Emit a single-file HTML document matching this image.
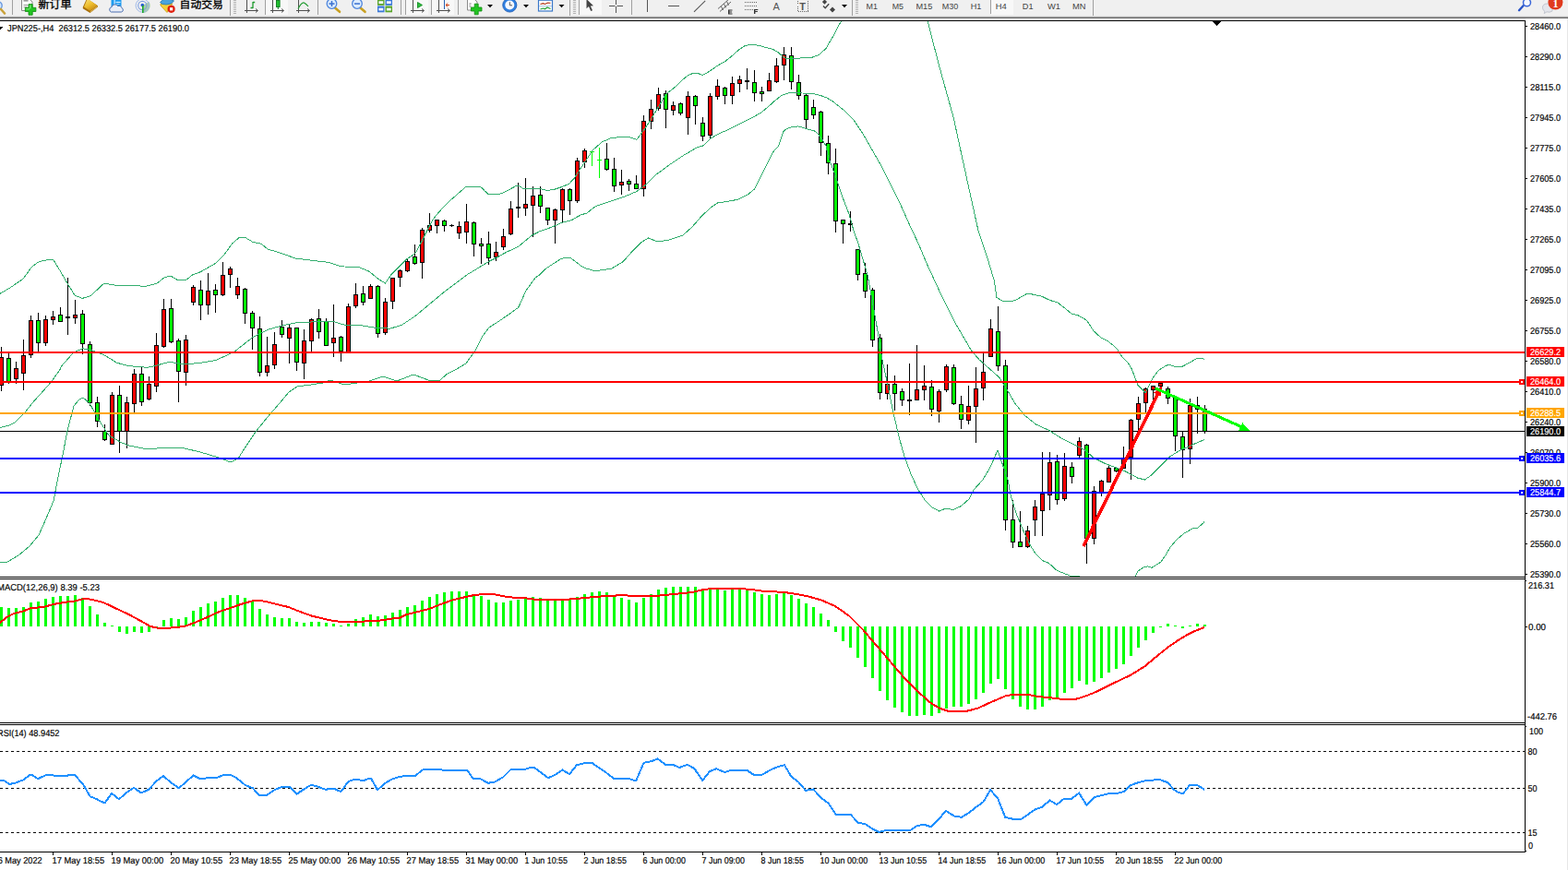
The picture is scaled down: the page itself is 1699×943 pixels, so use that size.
<!DOCTYPE html>
<html><head><meta charset="utf-8"><title>JPN225-,H4</title>
<style>html,body{margin:0;padding:0;background:#fff;overflow:hidden}body{width:1699px;height:943px;font-family:"Liberation Sans", sans-serif}</style>
</head><body><svg width="1699" height="943" viewBox="0 0 1699 943" font-family='"Liberation Sans", sans-serif' style="display:block"><rect x="0" y="0" width="1699" height="943" fill="#fff"/>
<rect x="0" y="0" width="1699" height="17" fill="#f0f0f0"/>
<rect x="0" y="17" width="1699" height="1" fill="#e2e2e2"/>
<rect x="0" y="18" width="1699" height="1" fill="#a3a3a3"/>
<rect x="0" y="19" width="1699" height="1" fill="#696969"/>
<rect x="1698" y="20" width="1" height="923" fill="#e6e6e6"/>
<g shape-rendering="crispEdges">
<rect x="0" y="22" width="1653" height="1" fill="#000"/>
<rect x="1652" y="22" width="1" height="902" fill="#000"/>
<rect x="0" y="625" width="1653" height="1" fill="#000"/>
<rect x="0" y="627" width="1653" height="1" fill="#000"/>
<rect x="0" y="783" width="1653" height="1" fill="#000"/>
<rect x="0" y="785" width="1653" height="1" fill="#000"/>
<rect x="0" y="923" width="1653" height="1" fill="#000"/>
<rect x="1653" y="922" width="1" height="1" fill="#000"/>
<rect x="1653" y="629" width="1" height="1" fill="#000"/>
<rect x="1653" y="787" width="1" height="1" fill="#000"/>
<polygon points="1313.5,23 1323.5,23 1318.5,28" fill="#000"/>
<polygon points="-3,29 3.4,29 0.2,32.4" fill="#000"/>
<clipPath id="cm"><rect x="0" y="23" width="1652" height="602"/></clipPath>
<g clip-path="url(#cm)">
<rect x="0" y="467" width="1652" height="1" fill="#000"/>
<rect x="1" y="376" width="1" height="48" fill="#000"/>
<rect x="-1" y="387" width="5" height="31" fill="#000"/>
<rect x="0" y="388" width="3" height="29" fill="#ff0000"/>
<rect x="9" y="383" width="1" height="33" fill="#000"/>
<rect x="7" y="388" width="5" height="26" fill="#000"/>
<rect x="8" y="389" width="3" height="24" fill="#00ff00"/>
<rect x="17" y="392" width="1" height="24" fill="#000"/>
<rect x="15" y="399" width="5" height="12" fill="#000"/>
<rect x="16" y="400" width="3" height="10" fill="#ff0000"/>
<rect x="25" y="368" width="1" height="55" fill="#000"/>
<rect x="23" y="385" width="5" height="20" fill="#000"/>
<rect x="24" y="386" width="3" height="18" fill="#ff0000"/>
<rect x="33" y="342" width="1" height="46" fill="#000"/>
<rect x="31" y="347" width="5" height="38" fill="#000"/>
<rect x="32" y="348" width="3" height="36" fill="#ff0000"/>
<rect x="41" y="339" width="1" height="42" fill="#000"/>
<rect x="39" y="347" width="5" height="25" fill="#000"/>
<rect x="40" y="348" width="3" height="23" fill="#00ff00"/>
<rect x="49" y="342" width="1" height="33" fill="#000"/>
<rect x="47" y="346" width="5" height="26" fill="#000"/>
<rect x="48" y="347" width="3" height="24" fill="#ff0000"/>
<rect x="57" y="337" width="1" height="15" fill="#000"/>
<rect x="55" y="343" width="5" height="4" fill="#000"/>
<rect x="56" y="344" width="3" height="2" fill="#ff0000"/>
<rect x="65" y="333" width="1" height="16" fill="#000"/>
<rect x="63" y="341" width="5" height="8" fill="#000"/>
<rect x="64" y="342" width="3" height="6" fill="#00ff00"/>
<rect x="73" y="301" width="1" height="62" fill="#000"/>
<rect x="71" y="343" width="5" height="2" fill="#000"/>
<rect x="81" y="325" width="1" height="26" fill="#000"/>
<rect x="79" y="341" width="5" height="4" fill="#000"/>
<rect x="80" y="342" width="3" height="2" fill="#ff0000"/>
<rect x="89" y="336" width="1" height="48" fill="#000"/>
<rect x="87" y="340" width="5" height="33" fill="#000"/>
<rect x="88" y="341" width="3" height="31" fill="#00ff00"/>
<rect x="97" y="370" width="1" height="70" fill="#000"/>
<rect x="95" y="373" width="5" height="64" fill="#000"/>
<rect x="96" y="374" width="3" height="62" fill="#00ff00"/>
<rect x="105" y="430" width="1" height="33" fill="#000"/>
<rect x="103" y="436" width="5" height="21" fill="#000"/>
<rect x="104" y="437" width="3" height="19" fill="#00ff00"/>
<rect x="113" y="460" width="1" height="18" fill="#000"/>
<rect x="111" y="467" width="5" height="10" fill="#000"/>
<rect x="112" y="468" width="3" height="8" fill="#00ff00"/>
<rect x="121" y="425" width="1" height="57" fill="#000"/>
<rect x="119" y="428" width="5" height="54" fill="#000"/>
<rect x="120" y="429" width="3" height="52" fill="#ff0000"/>
<rect x="129" y="418" width="1" height="73" fill="#000"/>
<rect x="127" y="428" width="5" height="40" fill="#000"/>
<rect x="128" y="429" width="3" height="38" fill="#00ff00"/>
<rect x="137" y="430" width="1" height="56" fill="#000"/>
<rect x="135" y="436" width="5" height="32" fill="#000"/>
<rect x="136" y="437" width="3" height="30" fill="#ff0000"/>
<rect x="145" y="400" width="1" height="47" fill="#000"/>
<rect x="143" y="405" width="5" height="33" fill="#000"/>
<rect x="144" y="406" width="3" height="31" fill="#ff0000"/>
<rect x="153" y="397" width="1" height="43" fill="#000"/>
<rect x="151" y="405" width="5" height="31" fill="#000"/>
<rect x="152" y="406" width="3" height="29" fill="#00ff00"/>
<rect x="161" y="408" width="1" height="26" fill="#000"/>
<rect x="159" y="416" width="5" height="17" fill="#000"/>
<rect x="160" y="417" width="3" height="15" fill="#ff0000"/>
<rect x="169" y="361" width="1" height="64" fill="#000"/>
<rect x="167" y="374" width="5" height="45" fill="#000"/>
<rect x="168" y="375" width="3" height="43" fill="#ff0000"/>
<rect x="177" y="324" width="1" height="53" fill="#000"/>
<rect x="175" y="335" width="5" height="41" fill="#000"/>
<rect x="176" y="336" width="3" height="39" fill="#ff0000"/>
<rect x="185" y="324" width="1" height="48" fill="#000"/>
<rect x="183" y="334" width="5" height="37" fill="#000"/>
<rect x="184" y="335" width="3" height="35" fill="#00ff00"/>
<rect x="193" y="367" width="1" height="69" fill="#000"/>
<rect x="191" y="369" width="5" height="34" fill="#000"/>
<rect x="192" y="370" width="3" height="32" fill="#00ff00"/>
<rect x="201" y="363" width="1" height="55" fill="#000"/>
<rect x="199" y="368" width="5" height="36" fill="#000"/>
<rect x="200" y="369" width="3" height="34" fill="#ff0000"/>
<rect x="209" y="309" width="1" height="22" fill="#000"/>
<rect x="207" y="311" width="5" height="17" fill="#000"/>
<rect x="208" y="312" width="3" height="15" fill="#ff0000"/>
<rect x="217" y="304" width="1" height="43" fill="#000"/>
<rect x="215" y="314" width="5" height="17" fill="#000"/>
<rect x="216" y="315" width="3" height="15" fill="#00ff00"/>
<rect x="225" y="296" width="1" height="45" fill="#000"/>
<rect x="223" y="315" width="5" height="16" fill="#000"/>
<rect x="224" y="316" width="3" height="14" fill="#ff0000"/>
<rect x="233" y="308" width="1" height="31" fill="#000"/>
<rect x="231" y="314" width="5" height="6" fill="#000"/>
<rect x="232" y="315" width="3" height="4" fill="#00ff00"/>
<rect x="241" y="284" width="1" height="37" fill="#000"/>
<rect x="239" y="298" width="5" height="22" fill="#000"/>
<rect x="240" y="299" width="3" height="20" fill="#ff0000"/>
<rect x="249" y="289" width="1" height="23" fill="#000"/>
<rect x="247" y="291" width="5" height="7" fill="#000"/>
<rect x="248" y="292" width="3" height="5" fill="#ff0000"/>
<rect x="257" y="301" width="1" height="23" fill="#000"/>
<rect x="255" y="310" width="5" height="10" fill="#000"/>
<rect x="256" y="311" width="3" height="8" fill="#ff0000"/>
<rect x="265" y="312" width="1" height="39" fill="#000"/>
<rect x="263" y="313" width="5" height="27" fill="#000"/>
<rect x="264" y="314" width="3" height="25" fill="#00ff00"/>
<rect x="273" y="337" width="1" height="42" fill="#000"/>
<rect x="271" y="339" width="5" height="17" fill="#000"/>
<rect x="272" y="340" width="3" height="15" fill="#00ff00"/>
<rect x="281" y="343" width="1" height="65" fill="#000"/>
<rect x="279" y="356" width="5" height="48" fill="#000"/>
<rect x="280" y="357" width="3" height="46" fill="#00ff00"/>
<rect x="289" y="365" width="1" height="43" fill="#000"/>
<rect x="287" y="396" width="5" height="8" fill="#000"/>
<rect x="288" y="397" width="3" height="6" fill="#ff0000"/>
<rect x="297" y="360" width="1" height="40" fill="#000"/>
<rect x="295" y="373" width="5" height="23" fill="#000"/>
<rect x="296" y="374" width="3" height="21" fill="#ff0000"/>
<rect x="305" y="347" width="1" height="19" fill="#000"/>
<rect x="303" y="354" width="5" height="9" fill="#000"/>
<rect x="304" y="355" width="3" height="7" fill="#00ff00"/>
<rect x="313" y="352" width="1" height="42" fill="#000"/>
<rect x="311" y="355" width="5" height="12" fill="#000"/>
<rect x="312" y="356" width="3" height="10" fill="#ff0000"/>
<rect x="321" y="355" width="1" height="47" fill="#000"/>
<rect x="319" y="355" width="5" height="38" fill="#000"/>
<rect x="320" y="356" width="3" height="36" fill="#00ff00"/>
<rect x="329" y="357" width="1" height="54" fill="#000"/>
<rect x="327" y="369" width="5" height="25" fill="#000"/>
<rect x="328" y="370" width="3" height="23" fill="#ff0000"/>
<rect x="337" y="345" width="1" height="36" fill="#000"/>
<rect x="335" y="346" width="5" height="24" fill="#000"/>
<rect x="336" y="347" width="3" height="22" fill="#ff0000"/>
<rect x="345" y="335" width="1" height="32" fill="#000"/>
<rect x="343" y="345" width="5" height="15" fill="#000"/>
<rect x="344" y="346" width="3" height="13" fill="#00ff00"/>
<rect x="353" y="345" width="1" height="30" fill="#000"/>
<rect x="351" y="348" width="5" height="27" fill="#000"/>
<rect x="352" y="349" width="3" height="25" fill="#00ff00"/>
<rect x="361" y="330" width="1" height="57" fill="#000"/>
<rect x="359" y="366" width="5" height="6" fill="#000"/>
<rect x="360" y="367" width="3" height="4" fill="#ff0000"/>
<rect x="369" y="364" width="1" height="28" fill="#000"/>
<rect x="367" y="365" width="5" height="16" fill="#000"/>
<rect x="368" y="366" width="3" height="14" fill="#00ff00"/>
<rect x="377" y="329" width="1" height="53" fill="#000"/>
<rect x="375" y="332" width="5" height="50" fill="#000"/>
<rect x="376" y="333" width="3" height="48" fill="#ff0000"/>
<rect x="385" y="307" width="1" height="27" fill="#000"/>
<rect x="383" y="319" width="5" height="13" fill="#000"/>
<rect x="384" y="320" width="3" height="11" fill="#ff0000"/>
<rect x="393" y="310" width="1" height="21" fill="#000"/>
<rect x="391" y="318" width="5" height="10" fill="#000"/>
<rect x="392" y="319" width="3" height="8" fill="#00ff00"/>
<rect x="401" y="308" width="1" height="16" fill="#000"/>
<rect x="399" y="310" width="5" height="14" fill="#000"/>
<rect x="400" y="311" width="3" height="12" fill="#ff0000"/>
<rect x="409" y="309" width="1" height="57" fill="#000"/>
<rect x="407" y="310" width="5" height="52" fill="#000"/>
<rect x="408" y="311" width="3" height="50" fill="#00ff00"/>
<rect x="417" y="323" width="1" height="40" fill="#000"/>
<rect x="415" y="327" width="5" height="34" fill="#000"/>
<rect x="416" y="328" width="3" height="32" fill="#ff0000"/>
<rect x="425" y="301" width="1" height="34" fill="#000"/>
<rect x="423" y="301" width="5" height="26" fill="#000"/>
<rect x="424" y="302" width="3" height="24" fill="#ff0000"/>
<rect x="433" y="292" width="1" height="19" fill="#000"/>
<rect x="431" y="293" width="5" height="8" fill="#000"/>
<rect x="432" y="294" width="3" height="6" fill="#ff0000"/>
<rect x="441" y="281" width="1" height="14" fill="#000"/>
<rect x="439" y="283" width="5" height="11" fill="#000"/>
<rect x="440" y="284" width="3" height="9" fill="#ff0000"/>
<rect x="449" y="265" width="1" height="22" fill="#000"/>
<rect x="447" y="278" width="5" height="8" fill="#000"/>
<rect x="448" y="279" width="3" height="6" fill="#00ff00"/>
<rect x="457" y="247" width="1" height="55" fill="#000"/>
<rect x="455" y="249" width="5" height="36" fill="#000"/>
<rect x="456" y="250" width="3" height="34" fill="#ff0000"/>
<rect x="465" y="231" width="1" height="21" fill="#000"/>
<rect x="463" y="244" width="5" height="6" fill="#000"/>
<rect x="464" y="245" width="3" height="4" fill="#ff0000"/>
<rect x="473" y="238" width="1" height="15" fill="#000"/>
<rect x="471" y="238" width="5" height="7" fill="#000"/>
<rect x="472" y="239" width="3" height="5" fill="#ff0000"/>
<rect x="481" y="238" width="1" height="13" fill="#000"/>
<rect x="479" y="239" width="5" height="6" fill="#000"/>
<rect x="480" y="240" width="3" height="4" fill="#00ff00"/>
<rect x="489" y="243" width="1" height="3" fill="#000"/>
<rect x="487" y="244" width="5" height="1" fill="#000"/>
<rect x="497" y="240" width="1" height="19" fill="#000"/>
<rect x="495" y="245" width="5" height="8" fill="#000"/>
<rect x="496" y="246" width="3" height="6" fill="#ff0000"/>
<rect x="505" y="221" width="1" height="43" fill="#000"/>
<rect x="503" y="240" width="5" height="12" fill="#000"/>
<rect x="504" y="241" width="3" height="10" fill="#ff0000"/>
<rect x="513" y="240" width="1" height="38" fill="#000"/>
<rect x="511" y="241" width="5" height="24" fill="#000"/>
<rect x="512" y="242" width="3" height="22" fill="#00ff00"/>
<rect x="521" y="258" width="1" height="28" fill="#000"/>
<rect x="519" y="264" width="5" height="3" fill="#000"/>
<rect x="520" y="265" width="3" height="1" fill="#00ff00"/>
<rect x="529" y="251" width="1" height="36" fill="#000"/>
<rect x="527" y="264" width="5" height="16" fill="#000"/>
<rect x="528" y="265" width="3" height="14" fill="#00ff00"/>
<rect x="537" y="262" width="1" height="21" fill="#000"/>
<rect x="535" y="273" width="5" height="6" fill="#000"/>
<rect x="536" y="274" width="3" height="4" fill="#ff0000"/>
<rect x="545" y="248" width="1" height="23" fill="#000"/>
<rect x="543" y="256" width="5" height="12" fill="#000"/>
<rect x="544" y="257" width="3" height="10" fill="#ff0000"/>
<rect x="553" y="218" width="1" height="37" fill="#000"/>
<rect x="551" y="226" width="5" height="28" fill="#000"/>
<rect x="552" y="227" width="3" height="26" fill="#ff0000"/>
<rect x="561" y="198" width="1" height="38" fill="#000"/>
<rect x="559" y="224" width="5" height="2" fill="#000"/>
<rect x="569" y="193" width="1" height="41" fill="#000"/>
<rect x="567" y="221" width="5" height="5" fill="#000"/>
<rect x="568" y="222" width="3" height="3" fill="#ff0000"/>
<rect x="577" y="202" width="1" height="55" fill="#000"/>
<rect x="575" y="212" width="5" height="11" fill="#000"/>
<rect x="576" y="213" width="3" height="9" fill="#ff0000"/>
<rect x="585" y="202" width="1" height="29" fill="#000"/>
<rect x="583" y="211" width="5" height="13" fill="#000"/>
<rect x="584" y="212" width="3" height="11" fill="#00ff00"/>
<rect x="593" y="225" width="1" height="19" fill="#000"/>
<rect x="591" y="225" width="5" height="14" fill="#000"/>
<rect x="592" y="226" width="3" height="12" fill="#00ff00"/>
<rect x="601" y="226" width="1" height="38" fill="#000"/>
<rect x="599" y="227" width="5" height="12" fill="#000"/>
<rect x="600" y="228" width="3" height="10" fill="#ff0000"/>
<rect x="609" y="204" width="1" height="37" fill="#000"/>
<rect x="607" y="205" width="5" height="23" fill="#000"/>
<rect x="608" y="206" width="3" height="21" fill="#ff0000"/>
<rect x="617" y="204" width="1" height="29" fill="#000"/>
<rect x="615" y="205" width="5" height="13" fill="#000"/>
<rect x="616" y="206" width="3" height="11" fill="#00ff00"/>
<rect x="625" y="171" width="1" height="49" fill="#000"/>
<rect x="623" y="174" width="5" height="44" fill="#000"/>
<rect x="624" y="175" width="3" height="42" fill="#ff0000"/>
<rect x="633" y="161" width="1" height="21" fill="#000"/>
<rect x="631" y="163" width="5" height="13" fill="#000"/>
<rect x="632" y="164" width="3" height="11" fill="#ff0000"/>
<rect x="641" y="164" width="1" height="16" fill="#00ff00"/>
<rect x="639" y="164" width="5" height="1" fill="#00ff00"/>
<rect x="649" y="160" width="1" height="33" fill="#00ff00"/>
<rect x="647" y="173" width="5" height="1" fill="#00ff00"/>
<rect x="657" y="155" width="1" height="30" fill="#000"/>
<rect x="655" y="172" width="5" height="12" fill="#000"/>
<rect x="656" y="173" width="3" height="10" fill="#00ff00"/>
<rect x="665" y="171" width="1" height="37" fill="#000"/>
<rect x="663" y="183" width="5" height="19" fill="#000"/>
<rect x="664" y="184" width="3" height="17" fill="#00ff00"/>
<rect x="673" y="184" width="1" height="27" fill="#000"/>
<rect x="671" y="197" width="5" height="4" fill="#000"/>
<rect x="672" y="198" width="3" height="2" fill="#ff0000"/>
<rect x="681" y="194" width="1" height="13" fill="#000"/>
<rect x="679" y="196" width="5" height="4" fill="#000"/>
<rect x="680" y="197" width="3" height="2" fill="#00ff00"/>
<rect x="689" y="190" width="1" height="15" fill="#000"/>
<rect x="687" y="199" width="5" height="6" fill="#000"/>
<rect x="688" y="200" width="3" height="4" fill="#00ff00"/>
<rect x="697" y="125" width="1" height="88" fill="#000"/>
<rect x="695" y="131" width="5" height="74" fill="#000"/>
<rect x="696" y="132" width="3" height="72" fill="#ff0000"/>
<rect x="705" y="108" width="1" height="32" fill="#000"/>
<rect x="703" y="118" width="5" height="14" fill="#000"/>
<rect x="704" y="119" width="3" height="12" fill="#ff0000"/>
<rect x="713" y="95" width="1" height="25" fill="#000"/>
<rect x="711" y="102" width="5" height="16" fill="#000"/>
<rect x="712" y="103" width="3" height="14" fill="#ff0000"/>
<rect x="721" y="98" width="1" height="41" fill="#000"/>
<rect x="719" y="101" width="5" height="18" fill="#000"/>
<rect x="720" y="102" width="3" height="16" fill="#00ff00"/>
<rect x="729" y="110" width="1" height="15" fill="#000"/>
<rect x="727" y="114" width="5" height="6" fill="#000"/>
<rect x="728" y="115" width="3" height="4" fill="#ff0000"/>
<rect x="737" y="111" width="1" height="14" fill="#000"/>
<rect x="735" y="112" width="5" height="11" fill="#000"/>
<rect x="736" y="113" width="3" height="9" fill="#00ff00"/>
<rect x="745" y="99" width="1" height="47" fill="#000"/>
<rect x="743" y="104" width="5" height="24" fill="#000"/>
<rect x="744" y="105" width="3" height="22" fill="#ff0000"/>
<rect x="753" y="103" width="1" height="32" fill="#000"/>
<rect x="751" y="104" width="5" height="11" fill="#000"/>
<rect x="752" y="105" width="3" height="9" fill="#00ff00"/>
<rect x="761" y="127" width="1" height="26" fill="#000"/>
<rect x="759" y="133" width="5" height="15" fill="#000"/>
<rect x="760" y="134" width="3" height="13" fill="#00ff00"/>
<rect x="769" y="101" width="1" height="50" fill="#000"/>
<rect x="767" y="104" width="5" height="43" fill="#000"/>
<rect x="768" y="105" width="3" height="41" fill="#ff0000"/>
<rect x="777" y="86" width="1" height="22" fill="#000"/>
<rect x="775" y="93" width="5" height="12" fill="#000"/>
<rect x="776" y="94" width="3" height="10" fill="#ff0000"/>
<rect x="785" y="94" width="1" height="19" fill="#000"/>
<rect x="783" y="95" width="5" height="9" fill="#000"/>
<rect x="784" y="96" width="3" height="7" fill="#00ff00"/>
<rect x="793" y="83" width="1" height="30" fill="#000"/>
<rect x="791" y="90" width="5" height="14" fill="#000"/>
<rect x="792" y="91" width="3" height="12" fill="#ff0000"/>
<rect x="801" y="82" width="1" height="18" fill="#000"/>
<rect x="799" y="86" width="5" height="5" fill="#000"/>
<rect x="800" y="87" width="3" height="3" fill="#ff0000"/>
<rect x="809" y="74" width="1" height="23" fill="#000"/>
<rect x="807" y="87" width="5" height="2" fill="#000"/>
<rect x="817" y="76" width="1" height="34" fill="#000"/>
<rect x="815" y="89" width="5" height="12" fill="#000"/>
<rect x="816" y="90" width="3" height="10" fill="#00ff00"/>
<rect x="825" y="94" width="1" height="16" fill="#000"/>
<rect x="823" y="99" width="5" height="3" fill="#000"/>
<rect x="824" y="100" width="3" height="1" fill="#00ff00"/>
<rect x="833" y="79" width="1" height="20" fill="#000"/>
<rect x="831" y="87" width="5" height="12" fill="#000"/>
<rect x="832" y="88" width="3" height="10" fill="#ff0000"/>
<rect x="841" y="63" width="1" height="27" fill="#000"/>
<rect x="839" y="71" width="5" height="18" fill="#000"/>
<rect x="840" y="72" width="3" height="16" fill="#ff0000"/>
<rect x="849" y="51" width="1" height="36" fill="#000"/>
<rect x="847" y="59" width="5" height="12" fill="#000"/>
<rect x="848" y="60" width="3" height="10" fill="#ff0000"/>
<rect x="857" y="51" width="1" height="46" fill="#000"/>
<rect x="855" y="60" width="5" height="29" fill="#000"/>
<rect x="856" y="61" width="3" height="27" fill="#00ff00"/>
<rect x="865" y="81" width="1" height="27" fill="#000"/>
<rect x="863" y="89" width="5" height="15" fill="#000"/>
<rect x="864" y="90" width="3" height="13" fill="#00ff00"/>
<rect x="873" y="102" width="1" height="37" fill="#000"/>
<rect x="871" y="103" width="5" height="27" fill="#000"/>
<rect x="872" y="104" width="3" height="25" fill="#00ff00"/>
<rect x="881" y="108" width="1" height="21" fill="#000"/>
<rect x="879" y="116" width="5" height="9" fill="#000"/>
<rect x="880" y="117" width="3" height="7" fill="#00ff00"/>
<rect x="889" y="120" width="1" height="49" fill="#000"/>
<rect x="887" y="121" width="5" height="34" fill="#000"/>
<rect x="888" y="122" width="3" height="32" fill="#00ff00"/>
<rect x="897" y="147" width="1" height="42" fill="#000"/>
<rect x="895" y="155" width="5" height="22" fill="#000"/>
<rect x="896" y="156" width="3" height="20" fill="#00ff00"/>
<rect x="905" y="161" width="1" height="91" fill="#000"/>
<rect x="903" y="177" width="5" height="63" fill="#000"/>
<rect x="904" y="178" width="3" height="61" fill="#00ff00"/>
<rect x="913" y="238" width="1" height="26" fill="#000"/>
<rect x="911" y="238" width="5" height="5" fill="#000"/>
<rect x="912" y="239" width="3" height="3" fill="#00ff00"/>
<rect x="921" y="229" width="1" height="22" fill="#000"/>
<rect x="919" y="242" width="5" height="2" fill="#000"/>
<rect x="929" y="270" width="1" height="34" fill="#000"/>
<rect x="927" y="270" width="5" height="28" fill="#000"/>
<rect x="928" y="271" width="3" height="26" fill="#00ff00"/>
<rect x="937" y="285" width="1" height="38" fill="#000"/>
<rect x="935" y="296" width="5" height="20" fill="#000"/>
<rect x="936" y="297" width="3" height="18" fill="#00ff00"/>
<rect x="945" y="312" width="1" height="64" fill="#000"/>
<rect x="943" y="314" width="5" height="55" fill="#000"/>
<rect x="944" y="315" width="3" height="53" fill="#00ff00"/>
<rect x="953" y="362" width="1" height="71" fill="#000"/>
<rect x="951" y="366" width="5" height="60" fill="#000"/>
<rect x="952" y="367" width="3" height="58" fill="#00ff00"/>
<rect x="961" y="395" width="1" height="38" fill="#000"/>
<rect x="959" y="416" width="5" height="11" fill="#000"/>
<rect x="960" y="417" width="3" height="9" fill="#ff0000"/>
<rect x="969" y="407" width="1" height="38" fill="#000"/>
<rect x="967" y="416" width="5" height="11" fill="#000"/>
<rect x="968" y="417" width="3" height="9" fill="#00ff00"/>
<rect x="977" y="421" width="1" height="19" fill="#000"/>
<rect x="975" y="424" width="5" height="10" fill="#000"/>
<rect x="976" y="425" width="3" height="8" fill="#00ff00"/>
<rect x="985" y="394" width="1" height="56" fill="#000"/>
<rect x="983" y="433" width="5" height="2" fill="#000"/>
<rect x="993" y="374" width="1" height="60" fill="#000"/>
<rect x="991" y="422" width="5" height="12" fill="#000"/>
<rect x="992" y="423" width="3" height="10" fill="#ff0000"/>
<rect x="1001" y="396" width="1" height="38" fill="#000"/>
<rect x="999" y="418" width="5" height="5" fill="#000"/>
<rect x="1000" y="419" width="3" height="3" fill="#ff0000"/>
<rect x="1009" y="412" width="1" height="39" fill="#000"/>
<rect x="1007" y="419" width="5" height="25" fill="#000"/>
<rect x="1008" y="420" width="3" height="23" fill="#00ff00"/>
<rect x="1017" y="422" width="1" height="36" fill="#000"/>
<rect x="1015" y="424" width="5" height="22" fill="#000"/>
<rect x="1016" y="425" width="3" height="20" fill="#ff0000"/>
<rect x="1025" y="395" width="1" height="30" fill="#000"/>
<rect x="1023" y="397" width="5" height="26" fill="#000"/>
<rect x="1024" y="398" width="3" height="24" fill="#ff0000"/>
<rect x="1033" y="395" width="1" height="44" fill="#000"/>
<rect x="1031" y="398" width="5" height="40" fill="#000"/>
<rect x="1032" y="399" width="3" height="38" fill="#00ff00"/>
<rect x="1041" y="429" width="1" height="36" fill="#000"/>
<rect x="1039" y="438" width="5" height="17" fill="#000"/>
<rect x="1040" y="439" width="3" height="15" fill="#00ff00"/>
<rect x="1049" y="418" width="1" height="42" fill="#000"/>
<rect x="1047" y="440" width="5" height="16" fill="#000"/>
<rect x="1048" y="441" width="3" height="14" fill="#ff0000"/>
<rect x="1057" y="398" width="1" height="82" fill="#000"/>
<rect x="1055" y="421" width="5" height="20" fill="#000"/>
<rect x="1056" y="422" width="3" height="18" fill="#ff0000"/>
<rect x="1065" y="382" width="1" height="52" fill="#000"/>
<rect x="1063" y="403" width="5" height="18" fill="#000"/>
<rect x="1064" y="404" width="3" height="16" fill="#ff0000"/>
<rect x="1073" y="346" width="1" height="41" fill="#000"/>
<rect x="1071" y="356" width="5" height="31" fill="#000"/>
<rect x="1072" y="357" width="3" height="29" fill="#ff0000"/>
<rect x="1081" y="332" width="1" height="70" fill="#000"/>
<rect x="1079" y="359" width="5" height="38" fill="#000"/>
<rect x="1080" y="360" width="3" height="36" fill="#00ff00"/>
<rect x="1089" y="390" width="1" height="185" fill="#000"/>
<rect x="1087" y="396" width="5" height="168" fill="#000"/>
<rect x="1088" y="397" width="3" height="166" fill="#00ff00"/>
<rect x="1097" y="542" width="1" height="52" fill="#000"/>
<rect x="1095" y="563" width="5" height="25" fill="#000"/>
<rect x="1096" y="564" width="3" height="23" fill="#00ff00"/>
<rect x="1105" y="554" width="1" height="39" fill="#000"/>
<rect x="1103" y="587" width="5" height="6" fill="#000"/>
<rect x="1104" y="588" width="3" height="4" fill="#00ff00"/>
<rect x="1113" y="570" width="1" height="24" fill="#000"/>
<rect x="1111" y="575" width="5" height="18" fill="#000"/>
<rect x="1112" y="576" width="3" height="16" fill="#ff0000"/>
<rect x="1121" y="542" width="1" height="39" fill="#000"/>
<rect x="1119" y="549" width="5" height="15" fill="#000"/>
<rect x="1120" y="550" width="3" height="13" fill="#ff0000"/>
<rect x="1129" y="490" width="1" height="91" fill="#000"/>
<rect x="1127" y="535" width="5" height="19" fill="#000"/>
<rect x="1128" y="536" width="3" height="17" fill="#ff0000"/>
<rect x="1137" y="490" width="1" height="63" fill="#000"/>
<rect x="1135" y="501" width="5" height="36" fill="#000"/>
<rect x="1136" y="502" width="3" height="34" fill="#ff0000"/>
<rect x="1145" y="493" width="1" height="54" fill="#000"/>
<rect x="1143" y="500" width="5" height="42" fill="#000"/>
<rect x="1144" y="501" width="3" height="40" fill="#00ff00"/>
<rect x="1153" y="491" width="1" height="52" fill="#000"/>
<rect x="1151" y="505" width="5" height="36" fill="#000"/>
<rect x="1152" y="506" width="3" height="34" fill="#ff0000"/>
<rect x="1161" y="501" width="1" height="23" fill="#000"/>
<rect x="1159" y="506" width="5" height="11" fill="#000"/>
<rect x="1160" y="507" width="3" height="9" fill="#00ff00"/>
<rect x="1169" y="474" width="1" height="22" fill="#000"/>
<rect x="1167" y="478" width="5" height="16" fill="#000"/>
<rect x="1168" y="479" width="3" height="14" fill="#ff0000"/>
<rect x="1177" y="481" width="1" height="130" fill="#000"/>
<rect x="1175" y="482" width="5" height="102" fill="#000"/>
<rect x="1176" y="483" width="3" height="100" fill="#00ff00"/>
<rect x="1185" y="527" width="1" height="63" fill="#000"/>
<rect x="1183" y="532" width="5" height="52" fill="#000"/>
<rect x="1184" y="533" width="3" height="50" fill="#ff0000"/>
<rect x="1193" y="520" width="1" height="18" fill="#000"/>
<rect x="1191" y="521" width="5" height="13" fill="#000"/>
<rect x="1192" y="522" width="3" height="11" fill="#ff0000"/>
<rect x="1201" y="503" width="1" height="20" fill="#000"/>
<rect x="1199" y="507" width="5" height="16" fill="#000"/>
<rect x="1200" y="508" width="3" height="14" fill="#ff0000"/>
<rect x="1209" y="507" width="1" height="5" fill="#000"/>
<rect x="1207" y="507" width="5" height="4" fill="#000"/>
<rect x="1208" y="508" width="3" height="2" fill="#00ff00"/>
<rect x="1217" y="484" width="1" height="24" fill="#000"/>
<rect x="1215" y="496" width="5" height="12" fill="#000"/>
<rect x="1216" y="497" width="3" height="10" fill="#ff0000"/>
<rect x="1225" y="454" width="1" height="66" fill="#000"/>
<rect x="1223" y="455" width="5" height="41" fill="#000"/>
<rect x="1224" y="456" width="3" height="39" fill="#ff0000"/>
<rect x="1233" y="430" width="1" height="37" fill="#000"/>
<rect x="1231" y="437" width="5" height="18" fill="#000"/>
<rect x="1232" y="438" width="3" height="16" fill="#ff0000"/>
<rect x="1241" y="420" width="1" height="27" fill="#000"/>
<rect x="1239" y="421" width="5" height="16" fill="#000"/>
<rect x="1240" y="422" width="3" height="14" fill="#ff0000"/>
<rect x="1249" y="418" width="1" height="16" fill="#000"/>
<rect x="1247" y="418" width="5" height="5" fill="#000"/>
<rect x="1248" y="419" width="3" height="3" fill="#ff0000"/>
<rect x="1257" y="415" width="1" height="8" fill="#000"/>
<rect x="1255" y="415" width="5" height="4" fill="#000"/>
<rect x="1256" y="416" width="3" height="2" fill="#ff0000"/>
<rect x="1265" y="419" width="1" height="19" fill="#000"/>
<rect x="1263" y="421" width="5" height="11" fill="#000"/>
<rect x="1264" y="422" width="3" height="9" fill="#00ff00"/>
<rect x="1273" y="431" width="1" height="58" fill="#000"/>
<rect x="1271" y="431" width="5" height="42" fill="#000"/>
<rect x="1272" y="432" width="3" height="40" fill="#00ff00"/>
<rect x="1281" y="467" width="1" height="51" fill="#000"/>
<rect x="1279" y="473" width="5" height="15" fill="#000"/>
<rect x="1280" y="474" width="3" height="13" fill="#00ff00"/>
<rect x="1289" y="432" width="1" height="71" fill="#000"/>
<rect x="1287" y="439" width="5" height="48" fill="#000"/>
<rect x="1288" y="440" width="3" height="46" fill="#ff0000"/>
<rect x="1297" y="430" width="1" height="40" fill="#000"/>
<rect x="1295" y="439" width="5" height="5" fill="#000"/>
<rect x="1296" y="440" width="3" height="3" fill="#ff0000"/>
<rect x="1305" y="439" width="1" height="31" fill="#000"/>
<rect x="1303" y="443" width="5" height="25" fill="#000"/>
<rect x="1304" y="444" width="3" height="23" fill="#00ff00"/>
<polyline points="0.0,318.3 10.8,312.0 25.2,302.1 34.2,289.5 42.4,283.5 50.5,281.9 57.7,281.4 64.9,293.1 72.1,305.7 81.1,320.1 89.2,323.4 98.2,320.7 112.7,307.1 126.2,309.3 158.6,310.2 169.4,307.5 178.4,300.7 184.8,299.0 192.9,303.9 201.0,303.9 209.1,297.6 216.3,295.2 234.3,285.0 242.4,276.9 251.4,264.2 258.7,257.9 265.0,257.0 274.0,262.4 283.0,264.2 290.0,270.0 303.3,274.0 320.0,280.0 340.0,282.5 355.0,284.2 370.0,288.8 390.0,290.0 400.0,294.2 410.0,302.5 417.5,307.0 424.0,297.5 431.5,290.0 440.2,281.2 446.5,277.2 450.9,273.1 455.2,265.0 460.2,255.0 465.2,245.0 469.0,238.1 472.8,233.1 477.8,227.5 482.8,222.5 489.0,216.2 494.0,211.9 499.0,207.5 505.2,202.2 517.8,202.2 521.5,203.1 525.2,206.9 529.0,210.4 540.2,210.4 545.2,209.0 552.8,205.0 560.2,201.0 564.0,202.5 567.8,205.0 577.8,204.8 585.2,204.4 592.8,206.5 601.5,205.0 609.0,202.5 616.5,199.4 622.8,192.5 629.0,182.5 630.9,180.0 632.5,177.5 642.5,162.5 652.5,153.8 662.5,149.5 680.0,148.0 690.0,151.2 697.5,141.2 705.0,130.0 712.5,117.5 721.2,102.5 727.5,97.5 733.8,92.5 740.0,86.2 745.0,81.9 750.0,79.8 753.8,79.4 757.5,80.0 761.2,81.5 767.5,78.1 777.5,71.2 786.2,66.2 793.8,60.0 800.0,54.4 807.5,49.4 815.0,48.1 822.5,49.4 830.0,51.5 837.5,53.5 842.5,56.2 847.5,60.6 851.2,63.1 858.8,63.5 868.8,62.9 880.0,62.2 887.5,59.4 895.0,52.5 900.0,43.8 901.8,40.0 902.5,40.0 907.5,30.0 912.0,22.0" fill="none" stroke="#33ae6e" stroke-width="1"/><polyline points="1005.0,22.0 1016.7,68.0 1033.3,128.0 1050.0,204.7 1060.0,250.0 1070.0,280.0 1077.5,305.0 1080.0,322.5 1087.5,327.0 1097.5,326.2 1100.0,325.6 1112.5,318.5 1117.5,318.8 1128.8,321.2 1137.5,325.4 1146.2,328.1 1155.0,335.0 1161.2,340.2 1167.5,341.5 1177.5,347.2 1185.0,358.8 1192.5,365.6 1200.0,369.4 1206.2,374.4 1211.2,379.4 1216.2,387.5 1222.5,393.8 1226.3,400.0 1230.3,410.6 1233.0,417.6 1237.4,422.0 1241.3,425.6 1245.3,417.6 1249.7,408.8 1255.0,401.8 1257.5,400.0 1262.5,396.9 1266.2,395.2 1272.5,397.2 1281.2,397.2 1290.0,392.5 1297.5,388.1 1301.2,388.1 1305.0,389.4" fill="none" stroke="#33ae6e" stroke-width="1"/>
<polyline points="0.0,463.5 9.6,461.1 16.8,457.5 26.4,447.9 35.9,435.9 45.5,425.2 55.1,414.4 64.7,401.2 66.7,396.7 80.0,381.7 90.0,377.7 100.0,380.0 113.3,385.0 126.7,393.3 140.0,396.7 160.0,398.3 170.0,396.0 183.3,392.3 200.0,395.0 216.7,393.3 233.3,390.7 253.3,381.7 273.3,366.0 290.0,357.3 306.7,352.7 320.0,350.0 340.0,348.8 360.0,348.0 372.5,352.0 390.0,352.5 405.0,355.0 422.5,356.2 435.0,352.5 450.0,342.5 465.0,330.0 480.0,317.5 495.0,306.2 506.5,297.5 519.0,290.0 529.0,283.8 539.0,278.8 549.0,273.1 561.5,267.5 569.0,261.2 576.5,255.0 585.2,250.6 597.8,246.2 609.0,241.2 619.0,238.8 629.0,233.1 635.8,231.0 645.0,223.8 660.0,218.8 675.0,213.8 690.0,207.5 700.0,200.0 710.0,190.0 725.0,178.8 740.0,168.8 755.0,160.0 761.9,157.9 770.0,150.0 777.5,145.6 787.5,141.2 797.5,136.2 807.5,131.2 817.5,126.2 825.0,121.9 832.5,115.6 840.0,108.8 847.5,103.1 855.0,100.6 862.5,100.2 871.2,101.2 881.2,101.5 890.0,103.8 896.2,106.2 901.8,109.4 915.0,120.0 925.0,130.0 935.0,145.0 945.0,162.5 955.0,180.0 965.0,200.0 975.0,220.0 985.0,242.5 995.0,263.8 1005.0,287.5 1020.0,320.0 1035.0,350.0 1052.5,380.0 1061.2,390.0 1072.5,400.0 1082.5,408.8 1091.2,422.5 1100.0,437.5 1110.0,450.0 1122.5,460.0 1136.2,466.2 1150.0,475.0 1162.5,481.2 1175.0,487.5 1185.0,496.2 1197.5,502.5 1207.5,506.2 1220.0,511.2 1232.5,518.0 1240.5,520.0 1247.5,515.0 1257.5,505.0 1267.5,495.0 1277.5,488.8 1290.0,483.0 1305.0,476.5" fill="none" stroke="#33ae6e" stroke-width="1"/>
<polyline points="0.0,610.0 8.0,609.0 20.0,602.0 32.0,592.0 42.0,580.0 50.0,562.0 58.0,543.0 63.0,517.0 68.0,493.0 73.0,467.0 80.0,440.0 86.0,433.0 90.0,431.0 97.0,437.0 107.0,455.0 118.0,472.0 132.0,480.0 140.0,483.0 160.0,487.0 180.0,485.0 200.0,486.0 217.0,490.0 237.0,496.0 250.0,501.0 258.0,497.0 267.0,483.0 277.0,468.0 290.0,452.0 303.0,437.0 313.0,425.0 322.0,419.0 337.0,417.0 350.0,415.0 358.0,412.0 370.0,416.0 380.0,416.0 400.0,413.0 415.0,408.0 430.0,413.0 448.0,406.0 467.0,413.0 477.0,412.0 483.8,405.8 495.0,400.0 505.0,393.8 515.0,380.0 522.5,365.0 530.0,355.0 540.0,348.5 550.0,341.7 561.7,333.3 570.0,315.0 580.0,301.0 585.2,297.5 591.5,291.2 599.0,286.2 607.8,280.6 614.0,279.1 619.0,280.0 624.0,283.8 630.2,288.8 635.8,291.2 645.0,293.8 662.5,291.2 675.0,283.8 685.0,272.5 695.0,262.5 702.5,258.0 712.5,262.0 725.0,260.0 740.0,255.0 750.0,246.0 760.0,234.5 770.0,225.0 777.5,220.0 790.0,218.0 800.0,216.2 810.0,211.2 817.5,205.0 822.5,195.0 830.0,180.0 837.5,165.0 843.8,157.9 846.2,150.0 848.8,142.5 852.5,139.4 858.8,137.5 865.0,136.9 871.2,138.8 877.5,140.6 882.5,141.9 886.2,145.0 890.0,150.0 893.1,155.0 895.0,157.9 897.5,170.0 905.0,190.0 912.5,212.5 920.0,232.0 925.0,250.0 930.0,264.0 940.0,298.0 947.0,336.0 952.0,365.0 956.0,390.0 962.5,420.0 967.5,445.0 973.8,472.5 980.0,495.0 987.5,515.0 995.0,531.0 1002.5,542.5 1010.0,550.0 1017.5,554.0 1025.0,551.0 1032.5,552.5 1041.0,548.8 1050.0,541.0 1055.0,531.0 1065.0,520.0 1072.5,507.5 1077.5,496.0 1081.0,488.0 1086.0,502.5 1092.0,520.0 1095.5,538.4 1101.2,556.7 1108.2,573.7 1116.0,590.6 1122.4,600.5 1129.4,607.6 1136.5,610.4 1145.0,618.2 1153.4,621.7 1160.5,624.5 1169.7,624.7" fill="none" stroke="#33ae6e" stroke-width="1"/><polyline points="1229.0,626.0 1230.4,624.5 1233.2,618.9 1239.6,614.6 1243.8,613.9 1248.1,615.3 1258.0,609.0 1262.9,601.9 1267.9,593.4 1274.9,585.0 1283.4,577.9 1291.9,573.0 1297.5,572.3 1304.6,566.3 1305.0,565.5" fill="none" stroke="#33ae6e" stroke-width="1"/>
<rect x="0" y="381" width="1652" height="2" fill="#ff0000"/>
<rect x="0" y="413" width="1652" height="2" fill="#ff0000"/>
<rect x="0" y="447" width="1652" height="2" fill="#ffa500"/>
<rect x="0" y="496" width="1652" height="2" fill="#0000ff"/>
<rect x="0" y="533" width="1652" height="2" fill="#0000ff"/>
<rect x="1646" y="411" width="6" height="6" fill="#ff0000"/>
<rect x="1648" y="413" width="2" height="2" fill="#fff"/>
<rect x="1646" y="445" width="6" height="6" fill="#ffa500"/>
<rect x="1648" y="447" width="2" height="2" fill="#fff"/>
<rect x="1646" y="494" width="6" height="6" fill="#0000ff"/>
<rect x="1648" y="496" width="2" height="2" fill="#fff"/>
<rect x="1646" y="531" width="6" height="6" fill="#0000ff"/>
<rect x="1648" y="533" width="2" height="2" fill="#fff"/>
<line x1="1174.0" y1="592.0" x2="1255.1" y2="426.0" stroke="#ff0000" stroke-width="3.6"/><polygon points="1258.8,418.4 1258.3,429.9 1250.1,425.8" fill="#ff0000"/>
<line x1="1251.5" y1="420.7" x2="1346.1" y2="463.1" stroke="#00ff00" stroke-width="3"/><polygon points="1353.9,466.6 1342.4,466.5 1346.2,458.1" fill="#00ff00"/>
</g>
<rect x="1653" y="28" width="2" height="1" fill="#000"/>
<rect x="1653" y="61" width="2" height="1" fill="#000"/>
<rect x="1653" y="94" width="2" height="1" fill="#000"/>
<rect x="1653" y="127" width="2" height="1" fill="#000"/>
<rect x="1653" y="160" width="2" height="1" fill="#000"/>
<rect x="1653" y="193" width="2" height="1" fill="#000"/>
<rect x="1653" y="226" width="2" height="1" fill="#000"/>
<rect x="1653" y="259" width="2" height="1" fill="#000"/>
<rect x="1653" y="292" width="2" height="1" fill="#000"/>
<rect x="1653" y="325" width="2" height="1" fill="#000"/>
<rect x="1653" y="358" width="2" height="1" fill="#000"/>
<rect x="1653" y="391" width="2" height="1" fill="#000"/>
<rect x="1653" y="424" width="2" height="1" fill="#000"/>
<rect x="1653" y="457" width="2" height="1" fill="#000"/>
<rect x="1653" y="490" width="2" height="1" fill="#000"/>
<rect x="1653" y="523" width="2" height="1" fill="#000"/>
<rect x="1653" y="556" width="2" height="1" fill="#000"/>
<rect x="1653" y="589" width="2" height="1" fill="#000"/>
<rect x="1653" y="622" width="2" height="1" fill="#000"/>
</g>
<text x="1658" y="32" font-size="10" fill="#000" stroke="#000" stroke-width="0.18" text-rendering="geometricPrecision" textLength="33" lengthAdjust="spacingAndGlyphs" xml:space="preserve">28460.0</text>
<text x="1658" y="65" font-size="10" fill="#000" stroke="#000" stroke-width="0.18" text-rendering="geometricPrecision" textLength="33" lengthAdjust="spacingAndGlyphs" xml:space="preserve">28290.0</text>
<text x="1658" y="98" font-size="10" fill="#000" stroke="#000" stroke-width="0.18" text-rendering="geometricPrecision" textLength="33" lengthAdjust="spacingAndGlyphs" xml:space="preserve">28115.0</text>
<text x="1658" y="131" font-size="10" fill="#000" stroke="#000" stroke-width="0.18" text-rendering="geometricPrecision" textLength="33" lengthAdjust="spacingAndGlyphs" xml:space="preserve">27945.0</text>
<text x="1658" y="164" font-size="10" fill="#000" stroke="#000" stroke-width="0.18" text-rendering="geometricPrecision" textLength="33" lengthAdjust="spacingAndGlyphs" xml:space="preserve">27775.0</text>
<text x="1658" y="197" font-size="10" fill="#000" stroke="#000" stroke-width="0.18" text-rendering="geometricPrecision" textLength="33" lengthAdjust="spacingAndGlyphs" xml:space="preserve">27605.0</text>
<text x="1658" y="230" font-size="10" fill="#000" stroke="#000" stroke-width="0.18" text-rendering="geometricPrecision" textLength="33" lengthAdjust="spacingAndGlyphs" xml:space="preserve">27435.0</text>
<text x="1658" y="263" font-size="10" fill="#000" stroke="#000" stroke-width="0.18" text-rendering="geometricPrecision" textLength="33" lengthAdjust="spacingAndGlyphs" xml:space="preserve">27265.0</text>
<text x="1658" y="296" font-size="10" fill="#000" stroke="#000" stroke-width="0.18" text-rendering="geometricPrecision" textLength="33" lengthAdjust="spacingAndGlyphs" xml:space="preserve">27095.0</text>
<text x="1658" y="329" font-size="10" fill="#000" stroke="#000" stroke-width="0.18" text-rendering="geometricPrecision" textLength="33" lengthAdjust="spacingAndGlyphs" xml:space="preserve">26925.0</text>
<text x="1658" y="362" font-size="10" fill="#000" stroke="#000" stroke-width="0.18" text-rendering="geometricPrecision" textLength="33" lengthAdjust="spacingAndGlyphs" xml:space="preserve">26755.0</text>
<text x="1658" y="395" font-size="10" fill="#000" stroke="#000" stroke-width="0.18" text-rendering="geometricPrecision" textLength="33" lengthAdjust="spacingAndGlyphs" xml:space="preserve">26580.0</text>
<text x="1658" y="428" font-size="10" fill="#000" stroke="#000" stroke-width="0.18" text-rendering="geometricPrecision" textLength="33" lengthAdjust="spacingAndGlyphs" xml:space="preserve">26410.0</text>
<text x="1658" y="461" font-size="10" fill="#000" stroke="#000" stroke-width="0.18" text-rendering="geometricPrecision" textLength="33" lengthAdjust="spacingAndGlyphs" xml:space="preserve">26240.0</text>
<text x="1658" y="494" font-size="10" fill="#000" stroke="#000" stroke-width="0.18" text-rendering="geometricPrecision" textLength="33" lengthAdjust="spacingAndGlyphs" xml:space="preserve">26070.0</text>
<text x="1658" y="527" font-size="10" fill="#000" stroke="#000" stroke-width="0.18" text-rendering="geometricPrecision" textLength="33" lengthAdjust="spacingAndGlyphs" xml:space="preserve">25900.0</text>
<text x="1658" y="560" font-size="10" fill="#000" stroke="#000" stroke-width="0.18" text-rendering="geometricPrecision" textLength="33" lengthAdjust="spacingAndGlyphs" xml:space="preserve">25730.0</text>
<text x="1658" y="593" font-size="10" fill="#000" stroke="#000" stroke-width="0.18" text-rendering="geometricPrecision" textLength="33" lengthAdjust="spacingAndGlyphs" xml:space="preserve">25560.0</text>
<text x="1658" y="626" font-size="10" fill="#000" stroke="#000" stroke-width="0.18" text-rendering="geometricPrecision" textLength="33" lengthAdjust="spacingAndGlyphs" xml:space="preserve">25390.0</text>
<rect x="1654" y="376" width="41" height="11" fill="#ff0000" shape-rendering="crispEdges"/>
<text x="1658" y="385" font-size="10" fill="#fff" stroke="#fff" stroke-width="0.18" text-rendering="geometricPrecision" textLength="33" lengthAdjust="spacingAndGlyphs" xml:space="preserve">26629.2</text>
<rect x="1654" y="408" width="41" height="11" fill="#ff0000" shape-rendering="crispEdges"/>
<text x="1658" y="417" font-size="10" fill="#fff" stroke="#fff" stroke-width="0.18" text-rendering="geometricPrecision" textLength="33" lengthAdjust="spacingAndGlyphs" xml:space="preserve">26464.0</text>
<rect x="1654" y="442" width="41" height="11" fill="#ffa500" shape-rendering="crispEdges"/>
<text x="1658" y="451" font-size="10" fill="#fff" stroke="#fff" stroke-width="0.18" text-rendering="geometricPrecision" textLength="33" lengthAdjust="spacingAndGlyphs" xml:space="preserve">26288.5</text>
<rect x="1654" y="462" width="41" height="11" fill="#000" shape-rendering="crispEdges"/>
<text x="1658" y="471" font-size="10" fill="#fff" stroke="#fff" stroke-width="0.18" text-rendering="geometricPrecision" textLength="33" lengthAdjust="spacingAndGlyphs" xml:space="preserve">26190.0</text>
<rect x="1654" y="491" width="41" height="11" fill="#0000ff" shape-rendering="crispEdges"/>
<text x="1658" y="500" font-size="10" fill="#fff" stroke="#fff" stroke-width="0.18" text-rendering="geometricPrecision" textLength="33" lengthAdjust="spacingAndGlyphs" xml:space="preserve">26035.6</text>
<rect x="1654" y="528" width="41" height="11" fill="#0000ff" shape-rendering="crispEdges"/>
<text x="1658" y="537" font-size="10" fill="#fff" stroke="#fff" stroke-width="0.18" text-rendering="geometricPrecision" textLength="33" lengthAdjust="spacingAndGlyphs" xml:space="preserve">25844.7</text>
<text x="8" y="34" font-size="10" fill="#000" stroke="#000" stroke-width="0.18" text-rendering="geometricPrecision" textLength="197" lengthAdjust="spacingAndGlyphs" xml:space="preserve">JPN225-,H4  26312.5 26332.5 26177.5 26190.0</text>
<g shape-rendering="crispEdges">
<rect x="0" y="658" width="3" height="21" fill="#00ff00"/>
<rect x="8" y="659" width="3" height="20" fill="#00ff00"/>
<rect x="16" y="659" width="3" height="20" fill="#00ff00"/>
<rect x="24" y="658" width="3" height="21" fill="#00ff00"/>
<rect x="32" y="653" width="3" height="26" fill="#00ff00"/>
<rect x="40" y="652" width="3" height="27" fill="#00ff00"/>
<rect x="48" y="649" width="3" height="30" fill="#00ff00"/>
<rect x="56" y="647" width="3" height="32" fill="#00ff00"/>
<rect x="64" y="646" width="3" height="33" fill="#00ff00"/>
<rect x="72" y="646" width="3" height="33" fill="#00ff00"/>
<rect x="80" y="645" width="3" height="34" fill="#00ff00"/>
<rect x="88" y="648" width="3" height="31" fill="#00ff00"/>
<rect x="96" y="657" width="3" height="22" fill="#00ff00"/>
<rect x="104" y="666" width="3" height="13" fill="#00ff00"/>
<rect x="112" y="675" width="3" height="4" fill="#00ff00"/>
<rect x="120" y="678" width="3" height="1" fill="#00ff00"/>
<rect x="128" y="679" width="3" height="6" fill="#00ff00"/>
<rect x="136" y="679" width="3" height="8" fill="#00ff00"/>
<rect x="144" y="679" width="3" height="6" fill="#00ff00"/>
<rect x="152" y="679" width="3" height="7" fill="#00ff00"/>
<rect x="160" y="679" width="3" height="6" fill="#00ff00"/>
<rect x="168" y="679" width="3" height="1" fill="#00ff00"/>
<rect x="176" y="672" width="3" height="7" fill="#00ff00"/>
<rect x="184" y="670" width="3" height="9" fill="#00ff00"/>
<rect x="192" y="671" width="3" height="8" fill="#00ff00"/>
<rect x="200" y="669" width="3" height="10" fill="#00ff00"/>
<rect x="208" y="662" width="3" height="17" fill="#00ff00"/>
<rect x="216" y="658" width="3" height="21" fill="#00ff00"/>
<rect x="224" y="654" width="3" height="25" fill="#00ff00"/>
<rect x="232" y="652" width="3" height="27" fill="#00ff00"/>
<rect x="240" y="648" width="3" height="31" fill="#00ff00"/>
<rect x="248" y="645" width="3" height="34" fill="#00ff00"/>
<rect x="256" y="645" width="3" height="34" fill="#00ff00"/>
<rect x="264" y="648" width="3" height="31" fill="#00ff00"/>
<rect x="272" y="652" width="3" height="27" fill="#00ff00"/>
<rect x="280" y="660" width="3" height="19" fill="#00ff00"/>
<rect x="288" y="666" width="3" height="13" fill="#00ff00"/>
<rect x="296" y="669" width="3" height="10" fill="#00ff00"/>
<rect x="304" y="670" width="3" height="9" fill="#00ff00"/>
<rect x="312" y="670" width="3" height="9" fill="#00ff00"/>
<rect x="320" y="674" width="3" height="5" fill="#00ff00"/>
<rect x="328" y="675" width="3" height="4" fill="#00ff00"/>
<rect x="336" y="674" width="3" height="5" fill="#00ff00"/>
<rect x="344" y="674" width="3" height="5" fill="#00ff00"/>
<rect x="352" y="675" width="3" height="4" fill="#00ff00"/>
<rect x="360" y="676" width="3" height="3" fill="#00ff00"/>
<rect x="368" y="678" width="3" height="1" fill="#00ff00"/>
<rect x="376" y="676" width="3" height="3" fill="#00ff00"/>
<rect x="384" y="671" width="3" height="8" fill="#00ff00"/>
<rect x="392" y="669" width="3" height="10" fill="#00ff00"/>
<rect x="400" y="666" width="3" height="13" fill="#00ff00"/>
<rect x="408" y="668" width="3" height="11" fill="#00ff00"/>
<rect x="416" y="667" width="3" height="12" fill="#00ff00"/>
<rect x="424" y="664" width="3" height="15" fill="#00ff00"/>
<rect x="432" y="661" width="3" height="18" fill="#00ff00"/>
<rect x="440" y="658" width="3" height="21" fill="#00ff00"/>
<rect x="448" y="656" width="3" height="23" fill="#00ff00"/>
<rect x="456" y="651" width="3" height="28" fill="#00ff00"/>
<rect x="464" y="647" width="3" height="32" fill="#00ff00"/>
<rect x="472" y="644" width="3" height="35" fill="#00ff00"/>
<rect x="480" y="642" width="3" height="37" fill="#00ff00"/>
<rect x="488" y="641" width="3" height="38" fill="#00ff00"/>
<rect x="496" y="641" width="3" height="38" fill="#00ff00"/>
<rect x="504" y="641" width="3" height="38" fill="#00ff00"/>
<rect x="512" y="644" width="3" height="35" fill="#00ff00"/>
<rect x="520" y="646" width="3" height="33" fill="#00ff00"/>
<rect x="528" y="650" width="3" height="29" fill="#00ff00"/>
<rect x="536" y="653" width="3" height="26" fill="#00ff00"/>
<rect x="544" y="653" width="3" height="26" fill="#00ff00"/>
<rect x="552" y="651" width="3" height="28" fill="#00ff00"/>
<rect x="560" y="650" width="3" height="29" fill="#00ff00"/>
<rect x="568" y="649" width="3" height="30" fill="#00ff00"/>
<rect x="576" y="647" width="3" height="32" fill="#00ff00"/>
<rect x="584" y="648" width="3" height="31" fill="#00ff00"/>
<rect x="592" y="650" width="3" height="29" fill="#00ff00"/>
<rect x="600" y="650" width="3" height="29" fill="#00ff00"/>
<rect x="608" y="650" width="3" height="29" fill="#00ff00"/>
<rect x="616" y="649" width="3" height="30" fill="#00ff00"/>
<rect x="624" y="647" width="3" height="32" fill="#00ff00"/>
<rect x="632" y="644" width="3" height="35" fill="#00ff00"/>
<rect x="640" y="642" width="3" height="37" fill="#00ff00"/>
<rect x="648" y="641" width="3" height="38" fill="#00ff00"/>
<rect x="656" y="642" width="3" height="37" fill="#00ff00"/>
<rect x="664" y="645" width="3" height="34" fill="#00ff00"/>
<rect x="672" y="648" width="3" height="31" fill="#00ff00"/>
<rect x="680" y="650" width="3" height="29" fill="#00ff00"/>
<rect x="688" y="653" width="3" height="26" fill="#00ff00"/>
<rect x="696" y="648" width="3" height="31" fill="#00ff00"/>
<rect x="704" y="644" width="3" height="35" fill="#00ff00"/>
<rect x="712" y="639" width="3" height="40" fill="#00ff00"/>
<rect x="720" y="637" width="3" height="42" fill="#00ff00"/>
<rect x="728" y="636" width="3" height="43" fill="#00ff00"/>
<rect x="736" y="636" width="3" height="43" fill="#00ff00"/>
<rect x="744" y="636" width="3" height="43" fill="#00ff00"/>
<rect x="752" y="636" width="3" height="43" fill="#00ff00"/>
<rect x="760" y="638" width="3" height="41" fill="#00ff00"/>
<rect x="768" y="639" width="3" height="40" fill="#00ff00"/>
<rect x="776" y="638" width="3" height="41" fill="#00ff00"/>
<rect x="784" y="640" width="3" height="39" fill="#00ff00"/>
<rect x="792" y="638" width="3" height="41" fill="#00ff00"/>
<rect x="800" y="638" width="3" height="41" fill="#00ff00"/>
<rect x="808" y="639" width="3" height="40" fill="#00ff00"/>
<rect x="816" y="642" width="3" height="37" fill="#00ff00"/>
<rect x="824" y="644" width="3" height="35" fill="#00ff00"/>
<rect x="832" y="645" width="3" height="34" fill="#00ff00"/>
<rect x="840" y="644" width="3" height="35" fill="#00ff00"/>
<rect x="848" y="642" width="3" height="37" fill="#00ff00"/>
<rect x="856" y="645" width="3" height="34" fill="#00ff00"/>
<rect x="864" y="649" width="3" height="30" fill="#00ff00"/>
<rect x="872" y="654" width="3" height="25" fill="#00ff00"/>
<rect x="880" y="658" width="3" height="21" fill="#00ff00"/>
<rect x="888" y="665" width="3" height="14" fill="#00ff00"/>
<rect x="896" y="672" width="3" height="7" fill="#00ff00"/>
<rect x="904" y="679" width="3" height="6" fill="#00ff00"/>
<rect x="912" y="679" width="3" height="16" fill="#00ff00"/>
<rect x="920" y="679" width="3" height="23" fill="#00ff00"/>
<rect x="928" y="679" width="3" height="34" fill="#00ff00"/>
<rect x="936" y="679" width="3" height="44" fill="#00ff00"/>
<rect x="944" y="679" width="3" height="56" fill="#00ff00"/>
<rect x="952" y="679" width="3" height="70" fill="#00ff00"/>
<rect x="960" y="679" width="3" height="80" fill="#00ff00"/>
<rect x="968" y="679" width="3" height="88" fill="#00ff00"/>
<rect x="976" y="679" width="3" height="93" fill="#00ff00"/>
<rect x="984" y="679" width="3" height="97" fill="#00ff00"/>
<rect x="992" y="679" width="3" height="97" fill="#00ff00"/>
<rect x="1000" y="679" width="3" height="96" fill="#00ff00"/>
<rect x="1008" y="679" width="3" height="97" fill="#00ff00"/>
<rect x="1016" y="679" width="3" height="94" fill="#00ff00"/>
<rect x="1024" y="679" width="3" height="89" fill="#00ff00"/>
<rect x="1032" y="679" width="3" height="87" fill="#00ff00"/>
<rect x="1040" y="679" width="3" height="87" fill="#00ff00"/>
<rect x="1048" y="679" width="3" height="84" fill="#00ff00"/>
<rect x="1056" y="679" width="3" height="79" fill="#00ff00"/>
<rect x="1064" y="679" width="3" height="72" fill="#00ff00"/>
<rect x="1072" y="679" width="3" height="62" fill="#00ff00"/>
<rect x="1080" y="679" width="3" height="57" fill="#00ff00"/>
<rect x="1088" y="679" width="3" height="68" fill="#00ff00"/>
<rect x="1096" y="679" width="3" height="79" fill="#00ff00"/>
<rect x="1104" y="679" width="3" height="87" fill="#00ff00"/>
<rect x="1112" y="679" width="3" height="90" fill="#00ff00"/>
<rect x="1120" y="679" width="3" height="90" fill="#00ff00"/>
<rect x="1128" y="679" width="3" height="87" fill="#00ff00"/>
<rect x="1136" y="679" width="3" height="80" fill="#00ff00"/>
<rect x="1144" y="679" width="3" height="79" fill="#00ff00"/>
<rect x="1152" y="679" width="3" height="72" fill="#00ff00"/>
<rect x="1160" y="679" width="3" height="67" fill="#00ff00"/>
<rect x="1168" y="679" width="3" height="59" fill="#00ff00"/>
<rect x="1176" y="679" width="3" height="63" fill="#00ff00"/>
<rect x="1184" y="679" width="3" height="60" fill="#00ff00"/>
<rect x="1192" y="679" width="3" height="56" fill="#00ff00"/>
<rect x="1200" y="679" width="3" height="50" fill="#00ff00"/>
<rect x="1208" y="679" width="3" height="46" fill="#00ff00"/>
<rect x="1216" y="679" width="3" height="41" fill="#00ff00"/>
<rect x="1224" y="679" width="3" height="32" fill="#00ff00"/>
<rect x="1232" y="679" width="3" height="23" fill="#00ff00"/>
<rect x="1240" y="679" width="3" height="15" fill="#00ff00"/>
<rect x="1248" y="679" width="3" height="7" fill="#00ff00"/>
<rect x="1256" y="679" width="3" height="1" fill="#00ff00"/>
<rect x="1264" y="676" width="3" height="3" fill="#00ff00"/>
<rect x="1272" y="678" width="3" height="1" fill="#00ff00"/>
<rect x="1280" y="679" width="3" height="2" fill="#00ff00"/>
<rect x="1288" y="678" width="3" height="1" fill="#00ff00"/>
<rect x="1296" y="676" width="3" height="3" fill="#00ff00"/>
<rect x="1304" y="677" width="3" height="2" fill="#00ff00"/>
<polyline points="0.0,675.0 7.5,668.8 15.0,665.0 25.0,662.5 34.0,659.0 47.5,658.0 57.5,655.0 72.5,652.5 80.0,651.8 89.0,649.5 96.0,649.2 105.0,651.2 112.5,653.2 125.0,659.2 140.0,666.2 152.5,673.0 162.5,678.8 171.0,680.8 182.5,680.8 200.0,679.0 212.5,674.2 225.0,668.8 237.5,663.0 250.0,658.8 262.5,654.5 274.0,651.2 280.0,650.8 287.5,651.8 300.0,655.0 312.5,658.0 325.0,663.0 337.5,667.5 355.0,671.8 370.0,674.2 385.0,674.2 400.0,673.2 412.5,672.5 425.0,670.5 432.5,670.0 440.0,666.2 450.0,663.8 465.0,660.0 477.5,655.0 490.0,650.5 502.5,647.5 513.8,645.0 523.8,644.0 535.0,644.0 545.0,646.2 555.0,647.5 567.5,648.0 577.5,649.5 600.0,650.0 617.5,649.5 632.5,648.2 645.0,646.8 657.5,646.2 675.0,645.0 685.0,646.0 712.5,645.8 725.0,644.5 737.5,643.2 750.0,642.0 762.5,639.0 772.5,638.0 800.0,638.0 815.0,639.0 825.0,640.5 837.5,641.2 850.0,642.0 862.5,643.8 875.0,646.2 890.0,650.5 905.0,657.0 920.0,667.5 935.0,682.5 950.0,700.0 965.0,717.5 980.0,735.0 995.0,750.0 1007.5,761.2 1017.5,767.5 1027.5,770.8 1047.5,770.8 1060.0,767.5 1075.0,760.5 1090.0,754.2 1100.0,752.5 1111.0,752.5 1125.0,755.0 1145.0,757.0 1152.5,758.2 1165.0,758.0 1175.0,755.0 1187.5,750.0 1205.0,741.2 1225.0,731.8 1240.0,722.5 1255.0,710.0 1265.0,702.0 1275.0,695.0 1285.0,688.8 1295.0,683.8 1305.0,680.0" fill="none" stroke="#ff0000" stroke-width="2"/>
<rect x="1653" y="679" width="2" height="1" fill="#000"/>
</g>
<text x="-3" y="640" font-size="10" fill="#000" stroke="#000" stroke-width="0.18" text-rendering="geometricPrecision" textLength="111" lengthAdjust="spacingAndGlyphs" xml:space="preserve">MACD(12,26,9) 8.39 -5.23</text>
<text x="1656" y="638" font-size="10" fill="#000" stroke="#000" stroke-width="0.18" text-rendering="geometricPrecision" textLength="28" lengthAdjust="spacingAndGlyphs" xml:space="preserve">216.31</text>
<text x="1656" y="683" font-size="10" fill="#000" stroke="#000" stroke-width="0.18" text-rendering="geometricPrecision" textLength="19" lengthAdjust="spacingAndGlyphs" xml:space="preserve">0.00</text>
<text x="1655" y="780" font-size="10" fill="#000" stroke="#000" stroke-width="0.18" text-rendering="geometricPrecision" textLength="32" lengthAdjust="spacingAndGlyphs" xml:space="preserve">-442.76</text>
<g shape-rendering="crispEdges">
<line x1="0" y1="814.5" x2="1652" y2="814.5" stroke="#000" stroke-width="1" stroke-dasharray="3 3"/>
<line x1="0" y1="854.5" x2="1652" y2="854.5" stroke="#000" stroke-width="1" stroke-dasharray="3 3"/>
<line x1="0" y1="902.5" x2="1652" y2="902.5" stroke="#000" stroke-width="1" stroke-dasharray="3 3"/>
<polyline points="0.0,845.5 3.8,845.5 10.0,850.0 16.0,848.8 25.0,845.5 32.5,840.0 35.0,840.0 41.0,844.2 50.0,840.0 56.0,840.0 59.0,840.8 72.5,840.8 75.0,840.0 81.0,840.0 90.0,850.0 97.5,863.2 105.0,866.2 110.0,869.2 113.8,870.0 121.0,860.0 129.0,866.2 137.5,858.8 145.0,853.8 153.0,859.5 161.0,855.8 170.0,846.2 177.0,841.2 185.0,848.0 193.8,854.2 201.0,848.0 209.5,840.5 216.0,843.8 220.0,844.2 225.0,843.0 235.0,843.0 242.0,840.0 250.0,840.0 256.0,843.0 266.0,851.2 273.8,854.2 281.0,862.0 289.0,862.0 297.5,856.2 305.0,853.2 313.8,853.2 321.8,860.5 330.0,855.0 337.0,850.8 343.8,852.5 352.5,855.8 361.0,854.5 369.5,858.2 377.5,847.0 383.8,845.0 387.5,845.0 393.8,846.2 400.0,843.8 402.5,844.5 409.0,856.2 417.5,848.8 425.0,844.5 431.2,842.5 438.8,840.8 450.0,840.8 458.8,833.8 476.2,833.8 478.8,834.5 506.2,834.5 512.5,843.8 520.0,843.8 528.8,848.8 536.2,847.5 545.0,842.5 553.8,833.8 568.8,833.8 575.0,831.8 578.8,831.8 586.2,837.5 593.8,843.2 601.2,840.0 609.5,834.5 617.0,839.2 625.0,829.2 635.0,826.8 641.2,826.8 648.8,832.0 656.2,837.0 665.0,843.8 681.2,843.8 686.2,845.5 689.5,845.5 697.5,826.8 706.2,825.0 712.5,822.5 721.2,828.8 728.8,828.8 736.2,832.0 745.0,828.8 752.5,833.2 761.2,846.2 768.8,836.2 776.2,833.2 785.0,837.0 793.8,834.5 808.8,834.5 816.2,839.5 826.2,839.5 835.0,834.5 842.5,831.2 850.0,829.2 857.5,842.0 865.0,847.5 873.0,856.8 881.2,855.5 890.0,865.0 897.5,870.5 905.5,882.5 921.2,882.5 930.0,891.8 937.5,893.2 946.2,898.8 952.5,902.0 960.0,900.0 986.2,900.0 993.8,895.0 1001.2,893.8 1008.8,896.2 1017.5,887.5 1025.0,878.8 1033.8,884.5 1042.0,885.8 1050.0,880.8 1057.5,875.0 1065.5,869.2 1073.2,856.2 1081.2,865.5 1089.2,885.8 1098.8,888.0 1106.2,888.0 1113.8,883.0 1121.2,877.5 1128.8,875.0 1137.5,867.5 1145.0,872.0 1153.0,865.8 1161.2,865.8 1169.2,859.5 1177.5,873.0 1185.5,864.2 1193.8,862.0 1202.5,860.0 1210.0,860.0 1217.5,858.2 1225.0,851.2 1233.8,848.0 1242.5,846.0 1250.0,845.5 1256.2,845.0 1265.0,848.0 1271.2,855.0 1275.0,858.0 1280.0,860.0 1282.5,859.5 1288.8,851.2 1297.5,851.2 1305.0,855.8" fill="none" stroke="#1e90ff" stroke-width="2"/>
</g>
<text x="-3" y="797.5" font-size="10" fill="#000" stroke="#000" stroke-width="0.18" text-rendering="geometricPrecision" textLength="67.5" lengthAdjust="spacingAndGlyphs" xml:space="preserve">RSI(14) 48.9452</text>
<text x="1657" y="796" font-size="10" fill="#000" stroke="#000" stroke-width="0.18" text-rendering="geometricPrecision" textLength="15" lengthAdjust="spacingAndGlyphs" xml:space="preserve">100</text>
<text x="1655.5" y="818" font-size="10" fill="#000" stroke="#000" stroke-width="0.18" text-rendering="geometricPrecision" textLength="10" lengthAdjust="spacingAndGlyphs" xml:space="preserve">80</text>
<text x="1655.5" y="858" font-size="10" fill="#000" stroke="#000" stroke-width="0.18" text-rendering="geometricPrecision" textLength="10" lengthAdjust="spacingAndGlyphs" xml:space="preserve">50</text>
<text x="1655.5" y="906" font-size="10" fill="#000" stroke="#000" stroke-width="0.18" text-rendering="geometricPrecision" textLength="10" lengthAdjust="spacingAndGlyphs" xml:space="preserve">15</text>
<text x="1656" y="920" font-size="10" fill="#000" stroke="#000" stroke-width="0.18" text-rendering="geometricPrecision" textLength="5" lengthAdjust="spacingAndGlyphs" xml:space="preserve">0</text>
<g shape-rendering="crispEdges">
<rect x="57" y="923" width="1" height="4" fill="#000"/>
<rect x="121" y="923" width="1" height="4" fill="#000"/>
<rect x="185" y="923" width="1" height="4" fill="#000"/>
<rect x="249" y="923" width="1" height="4" fill="#000"/>
<rect x="313" y="923" width="1" height="4" fill="#000"/>
<rect x="377" y="923" width="1" height="4" fill="#000"/>
<rect x="441" y="923" width="1" height="4" fill="#000"/>
<rect x="505" y="923" width="1" height="4" fill="#000"/>
<rect x="569" y="923" width="1" height="4" fill="#000"/>
<rect x="633" y="923" width="1" height="4" fill="#000"/>
<rect x="697" y="923" width="1" height="4" fill="#000"/>
<rect x="761" y="923" width="1" height="4" fill="#000"/>
<rect x="825" y="923" width="1" height="4" fill="#000"/>
<rect x="889" y="923" width="1" height="4" fill="#000"/>
<rect x="953" y="923" width="1" height="4" fill="#000"/>
<rect x="1017" y="923" width="1" height="4" fill="#000"/>
<rect x="1081" y="923" width="1" height="4" fill="#000"/>
<rect x="1145" y="923" width="1" height="4" fill="#000"/>
<rect x="1209" y="923" width="1" height="4" fill="#000"/>
<rect x="1273" y="923" width="1" height="4" fill="#000"/>
</g>
<text x="-7.4" y="936.1" font-size="10" fill="#000" stroke="#000" stroke-width="0.18" text-rendering="geometricPrecision" textLength="53" lengthAdjust="spacingAndGlyphs" xml:space="preserve">16 May 2022</text>
<text x="56.6" y="936.1" font-size="10" fill="#000" stroke="#000" stroke-width="0.18" text-rendering="geometricPrecision" textLength="56.5" lengthAdjust="spacingAndGlyphs" xml:space="preserve">17 May 18:55</text>
<text x="120.6" y="936.1" font-size="10" fill="#000" stroke="#000" stroke-width="0.18" text-rendering="geometricPrecision" textLength="56.5" lengthAdjust="spacingAndGlyphs" xml:space="preserve">19 May 00:00</text>
<text x="184.6" y="936.1" font-size="10" fill="#000" stroke="#000" stroke-width="0.18" text-rendering="geometricPrecision" textLength="56.5" lengthAdjust="spacingAndGlyphs" xml:space="preserve">20 May 10:55</text>
<text x="248.6" y="936.1" font-size="10" fill="#000" stroke="#000" stroke-width="0.18" text-rendering="geometricPrecision" textLength="56.5" lengthAdjust="spacingAndGlyphs" xml:space="preserve">23 May 18:55</text>
<text x="312.6" y="936.1" font-size="10" fill="#000" stroke="#000" stroke-width="0.18" text-rendering="geometricPrecision" textLength="56.5" lengthAdjust="spacingAndGlyphs" xml:space="preserve">25 May 00:00</text>
<text x="376.6" y="936.1" font-size="10" fill="#000" stroke="#000" stroke-width="0.18" text-rendering="geometricPrecision" textLength="56.5" lengthAdjust="spacingAndGlyphs" xml:space="preserve">26 May 10:55</text>
<text x="440.6" y="936.1" font-size="10" fill="#000" stroke="#000" stroke-width="0.18" text-rendering="geometricPrecision" textLength="56.5" lengthAdjust="spacingAndGlyphs" xml:space="preserve">27 May 18:55</text>
<text x="504.6" y="936.1" font-size="10" fill="#000" stroke="#000" stroke-width="0.18" text-rendering="geometricPrecision" textLength="56.5" lengthAdjust="spacingAndGlyphs" xml:space="preserve">31 May 00:00</text>
<text x="568.6" y="936.1" font-size="10" fill="#000" stroke="#000" stroke-width="0.18" text-rendering="geometricPrecision" textLength="46.3" lengthAdjust="spacingAndGlyphs" xml:space="preserve">1 Jun 10:55</text>
<text x="632.6" y="936.1" font-size="10" fill="#000" stroke="#000" stroke-width="0.18" text-rendering="geometricPrecision" textLength="46.3" lengthAdjust="spacingAndGlyphs" xml:space="preserve">2 Jun 18:55</text>
<text x="696.6" y="936.1" font-size="10" fill="#000" stroke="#000" stroke-width="0.18" text-rendering="geometricPrecision" textLength="46.3" lengthAdjust="spacingAndGlyphs" xml:space="preserve">6 Jun 00:00</text>
<text x="760.6" y="936.1" font-size="10" fill="#000" stroke="#000" stroke-width="0.18" text-rendering="geometricPrecision" textLength="46.3" lengthAdjust="spacingAndGlyphs" xml:space="preserve">7 Jun 09:00</text>
<text x="824.6" y="936.1" font-size="10" fill="#000" stroke="#000" stroke-width="0.18" text-rendering="geometricPrecision" textLength="46.3" lengthAdjust="spacingAndGlyphs" xml:space="preserve">8 Jun 18:55</text>
<text x="888.6" y="936.1" font-size="10" fill="#000" stroke="#000" stroke-width="0.18" text-rendering="geometricPrecision" textLength="51.7" lengthAdjust="spacingAndGlyphs" xml:space="preserve">10 Jun 00:00</text>
<text x="952.6" y="936.1" font-size="10" fill="#000" stroke="#000" stroke-width="0.18" text-rendering="geometricPrecision" textLength="51.7" lengthAdjust="spacingAndGlyphs" xml:space="preserve">13 Jun 10:55</text>
<text x="1016.6" y="936.1" font-size="10" fill="#000" stroke="#000" stroke-width="0.18" text-rendering="geometricPrecision" textLength="51.7" lengthAdjust="spacingAndGlyphs" xml:space="preserve">14 Jun 18:55</text>
<text x="1080.6" y="936.1" font-size="10" fill="#000" stroke="#000" stroke-width="0.18" text-rendering="geometricPrecision" textLength="51.7" lengthAdjust="spacingAndGlyphs" xml:space="preserve">16 Jun 00:00</text>
<text x="1144.6" y="936.1" font-size="10" fill="#000" stroke="#000" stroke-width="0.18" text-rendering="geometricPrecision" textLength="51.7" lengthAdjust="spacingAndGlyphs" xml:space="preserve">17 Jun 10:55</text>
<text x="1208.6" y="936.1" font-size="10" fill="#000" stroke="#000" stroke-width="0.18" text-rendering="geometricPrecision" textLength="51.7" lengthAdjust="spacingAndGlyphs" xml:space="preserve">20 Jun 18:55</text>
<text x="1272.6" y="936.1" font-size="10" fill="#000" stroke="#000" stroke-width="0.18" text-rendering="geometricPrecision" textLength="51.7" lengthAdjust="spacingAndGlyphs" xml:space="preserve">22 Jun 00:00</text>
<clipPath id="tb"><rect x="0" y="0" width="1699" height="17"/></clipPath>
<g clip-path="url(#tb)">
<circle cx="-2" cy="6" r="4.2" fill="#d8e8fb" stroke="#6a9ae0" stroke-width="1.4"/>
<line x1="1" y1="10" x2="5" y2="14.5" stroke="#c9a23a" stroke-width="2.6" stroke-linecap="round"/>
<rect x="13" y="0" width="1" height="16" fill="#a0a0a0" shape-rendering="crispEdges"/>
<path d="M23.5,-1 H32 L35,2 V11.5 H23.5 Z" fill="#fdfdfd" stroke="#8a8a8a" stroke-width="1"/>
<rect x="25.5" y="0" width="5" height="1.6" fill="#9a9a9a"/>
<rect x="25.5" y="5" width="5" height="1" fill="#9a9a9a"/><rect x="25.5" y="7.2" width="4" height="1" fill="#9a9a9a"/>
<path d="M31,4.6 h4.2 v3.7 h3.7 v4.2 h-3.7 v3.7 h-4.2 v-3.7 h-3.7 v-4.2 h3.7 z" fill="#22c422" stroke="#0e8a0e" stroke-width="0.8"/>
<path d="M32,5.6 h1.4 v4 h-1.4z M28.3,9.3 h3.7 v1.2 h-3.7z" fill="#8cf08c" opacity="0.8"/>
<text x="41.6" y="8.8" font-size="12" fill="#000" stroke="#000" stroke-width="0.34" font-family='"Liberation Sans", "Noto Sans CJK SC", sans-serif'>新订单</text>
<linearGradient id="gb" x1="0" y1="0" x2="0.6" y2="1"><stop offset="0" stop-color="#fbe27a"/><stop offset="0.55" stop-color="#edbd2e"/><stop offset="1" stop-color="#c98a12"/></linearGradient>
<path d="M95,-1 L106,6.2 L106,7.6 L97.6,13.9 L89.8,9.2 L89.8,7.8 L93.8,-1 Z" fill="#a9700a"/>
<path d="M95.6,-1 L105.4,6.1 L97.8,11.9 L91,7.6 L94.6,-1 Z" fill="url(#gb)"/>
<path d="M97.8,12.9 L105.6,7" stroke="#f3d67a" stroke-width="0.7" fill="none"/>
<rect x="120.5" y="-1" width="11" height="8.5" fill="#1e9cf0"/>
<rect x="123.5" y="-1" width="1.3" height="7" fill="#bfe4ff"/><rect x="125.5" y="1.8" width="5" height="1.2" fill="#d8efff"/><rect x="125.5" y="4" width="4" height="1" fill="#8cd0ff"/>
<path d="M120.5,13 a2.8,2.8 0 0 1 0.6,-5.4 a3.6,3.6 0 0 1 6.6,-1 a3,3 0 0 1 4.2,2 a2.3,2.3 0 0 1 -0.4,4.4 z" fill="#e9eef7" stroke="#4b6fb0" stroke-width="1"/>
<path d="M154.5,6 L154.5,14 A8,8 0 0 0 161.5,2 Z" fill="#9cc89c" opacity="0.85"/>
<circle cx="154.3" cy="6" r="7.2" fill="none" stroke="#9fb9e8" stroke-width="1"/>
<circle cx="154.3" cy="6" r="4.6" fill="none" stroke="#7fa0e0" stroke-width="1.1"/>
<circle cx="154.3" cy="5.6" r="1.8" fill="#2a5fd0"/>
<rect x="154" y="6" width="1.6" height="8" fill="#1eaa2a"/>
<path d="M174,4 L187,4 L183,9 L181,13.5 L174,6 Z" fill="#f4cf3a" stroke="#c79a10" stroke-width="0.8"/>
<path d="M173.5,2.5 Q176,-1 180.5,-1 Q186,-1 188.5,1 Q186,5 180,5 Q175,5 173.5,2.5 Z" fill="#4aa3dc" stroke="#2a78b0" stroke-width="0.8"/>
<circle cx="185.6" cy="9.8" r="4.1" fill="#e0200f"/><rect x="184" y="8.2" width="3.2" height="3.2" fill="#fff"/>
<text x="194.6" y="8.6" font-size="11.8" fill="#000" stroke="#000" stroke-width="0.33" font-family='"Liberation Sans", "Noto Sans CJK SC", sans-serif'>自动交易</text>
<rect x="249" y="0" width="1" height="17" fill="#a0a0a0" shape-rendering="crispEdges"/>
<rect x="253" y="0" width="3" height="1" fill="#b4b4b4" shape-rendering="crispEdges"/>
<rect x="253" y="2" width="3" height="1" fill="#b4b4b4" shape-rendering="crispEdges"/>
<rect x="253" y="4" width="3" height="1" fill="#b4b4b4" shape-rendering="crispEdges"/>
<rect x="253" y="6" width="3" height="1" fill="#b4b4b4" shape-rendering="crispEdges"/>
<rect x="253" y="8" width="3" height="1" fill="#b4b4b4" shape-rendering="crispEdges"/>
<rect x="253" y="10" width="3" height="1" fill="#b4b4b4" shape-rendering="crispEdges"/>
<rect x="253" y="12" width="3" height="1" fill="#b4b4b4" shape-rendering="crispEdges"/>
<rect x="253" y="14" width="3" height="1" fill="#b4b4b4" shape-rendering="crispEdges"/>
<path d="M267.5,0 V13.5 M265,11.5 H279" stroke="#505050" stroke-width="1" fill="none" shape-rendering="crispEdges"/>
<path d="M277,9.5 L279.5,11.5 L277,13.5" stroke="#505050" stroke-width="1" fill="none"/>
<path d="M274,9 V2 M271.5,8.5 H274 M274,2.5 H276.2" stroke="#1e9a2e" stroke-width="1.3" fill="none"/>
<rect x="287" y="0" width="1" height="16" fill="#a0a0a0" shape-rendering="crispEdges"/>
<rect x="288" y="0" width="24" height="16" fill="#f8f8f8"/>
<path d="M295.5,0 V13.5 M293,11.5 H307" stroke="#505050" stroke-width="1" fill="none" shape-rendering="crispEdges"/>
<path d="M305,9.5 L307.5,11.5 L305,13.5" stroke="#505050" stroke-width="1" fill="none"/>
<rect x="299.5" y="0.5" width="3.6" height="7" fill="#20c030" stroke="#0e7a1e" stroke-width="0.9"/><rect x="300.8" y="7.5" width="1" height="2.5" fill="#0e7a1e"/>
<path d="M323.5,0 V13.5 M321,11.5 H335" stroke="#505050" stroke-width="1" fill="none" shape-rendering="crispEdges"/>
<path d="M333,9.5 L335.5,11.5 L333,13.5" stroke="#505050" stroke-width="1" fill="none"/>
<path d="M323,9.5 Q327,2 329.5,3 Q332,4.5 334,7" stroke="#1e9a2e" stroke-width="1.2" fill="none"/>
<rect x="344" y="0" width="1" height="16" fill="#a0a0a0" shape-rendering="crispEdges"/>
<line x1="363.0" y1="8.5" x2="368.0" y2="12.8" stroke="#c9a020" stroke-width="2.6" stroke-linecap="round"/>
<circle cx="359.5" cy="4" r="5.3" fill="#dcecfd" stroke="#4f86dd" stroke-width="1.3"/>
<rect x="356.5" y="3.3" width="6" height="1.5" fill="#3a6fd0"/>
<rect x="358.75" y="1" width="1.5" height="6" fill="#3a6fd0"/>
<line x1="390.5" y1="8.5" x2="395.5" y2="12.8" stroke="#c9a020" stroke-width="2.6" stroke-linecap="round"/>
<circle cx="387" cy="4" r="5.3" fill="#dcecfd" stroke="#4f86dd" stroke-width="1.3"/>
<rect x="384" y="3.3" width="6" height="1.5" fill="#3a6fd0"/>
<rect x="409" y="-1" width="7.5" height="6.8" fill="#5aa52a"/>
<rect x="410.4" y="1.2000000000000002" width="4.8" height="2.8" fill="#f4f8ff"/>
<rect x="417.5" y="-1" width="7.5" height="6.8" fill="#3a78d8"/>
<rect x="418.9" y="1.2000000000000002" width="4.8" height="2.8" fill="#f4f8ff"/>
<rect x="409" y="6.5" width="7.5" height="6.8" fill="#3a78d8"/>
<rect x="410.4" y="8.7" width="4.8" height="2.8" fill="#f4f8ff"/>
<rect x="417.5" y="6.5" width="7.5" height="6.8" fill="#5aa52a"/>
<rect x="418.9" y="8.7" width="4.8" height="2.8" fill="#f4f8ff"/>
<rect x="434" y="0" width="1" height="16" fill="#a0a0a0" shape-rendering="crispEdges"/>
<rect x="439" y="0" width="1" height="16" fill="#a0a0a0" shape-rendering="crispEdges"/>
<rect x="440" y="0" width="24" height="16" fill="#f8f8f8"/>
<path d="M447.5,0 V13.5 M445,11.5 H459" stroke="#505050" stroke-width="1" fill="none" shape-rendering="crispEdges"/>
<path d="M457,9.5 L459.5,11.5 L457,13.5" stroke="#505050" stroke-width="1" fill="none"/>
<path d="M452.5,2.5 L457.5,5.5 L452.5,8.5 Z" fill="#30c040" stroke="#0e8a1e" stroke-width="0.9"/>
<rect x="467" y="0" width="1" height="16" fill="#a0a0a0" shape-rendering="crispEdges"/>
<rect x="468" y="0" width="24" height="16" fill="#f8f8f8"/>
<path d="M475.5,0 V13.5 M473,11.5 H487" stroke="#505050" stroke-width="1" fill="none" shape-rendering="crispEdges"/>
<path d="M485,9.5 L487.5,11.5 L485,13.5" stroke="#505050" stroke-width="1" fill="none"/>
<rect x="481" y="0" width="1" height="10" fill="#2a60b0"/><path d="M483,5.5 H487 M483,5.5 l2.2,-2 M483,5.5 l2.2,2" stroke="#d04010" stroke-width="1" fill="none"/>
<rect x="496" y="0" width="1" height="16" fill="#a0a0a0" shape-rendering="crispEdges"/>
<path d="M506.5,-1 H514 L517,2 V11 H506.5 Z" fill="#fdfdfd" stroke="#8a8a8a" stroke-width="1"/>
<path d="M509,3 v5 M509,4 h2 M509,7 h2" stroke="#9a9a9a" stroke-width="0.8" fill="none"/>
<path d="M514.2,4.2 h4 v3.8 h3.8 v4 h-3.8 v3.8 h-4 v-3.8 h-3.8 v-4 h3.8 z" fill="#22c422" stroke="#0e8a0e" stroke-width="0.8"/>
<polygon points="528,5 534,5 531,8.2" fill="#000"/>
<circle cx="552.3" cy="5.5" r="7.6" fill="#2f7fe0" stroke="#1c58b0" stroke-width="0.8"/><circle cx="552.3" cy="5.5" r="5" fill="#f4f8ff"/>
<path d="M552.3,2.2 V5.8 H555" stroke="#555" stroke-width="1" fill="none"/>
<polygon points="567,5 573,5 570,8.2" fill="#000"/>
<rect x="583.5" y="-1" width="15" height="13" fill="#fff" stroke="#3a78c8" stroke-width="1.2"/><rect x="583.5" y="-1" width="15" height="1.8" fill="#3a78c8"/>
<path d="M585.5,4.5 l3,-0.8 l2,0.8 l3,-1.5 l3,0.3" stroke="#b03010" stroke-width="1.1" fill="none"/>
<path d="M585.5,10 l3,-1 l2,0.8 l2.5,-1.8 l3.5,1.5" stroke="#20a030" stroke-width="1.1" fill="none"/>
<rect x="584" y="6.3" width="14" height="0.8" fill="#9ab8e0"/>
<polygon points="605.5,5 611.5,5 608.5,8.2" fill="#000"/>
<rect x="617" y="0" width="1" height="17" fill="#a0a0a0" shape-rendering="crispEdges"/>
<rect x="621" y="0" width="3" height="1" fill="#b4b4b4" shape-rendering="crispEdges"/>
<rect x="621" y="2" width="3" height="1" fill="#b4b4b4" shape-rendering="crispEdges"/>
<rect x="621" y="4" width="3" height="1" fill="#b4b4b4" shape-rendering="crispEdges"/>
<rect x="621" y="6" width="3" height="1" fill="#b4b4b4" shape-rendering="crispEdges"/>
<rect x="621" y="8" width="3" height="1" fill="#b4b4b4" shape-rendering="crispEdges"/>
<rect x="621" y="10" width="3" height="1" fill="#b4b4b4" shape-rendering="crispEdges"/>
<rect x="621" y="12" width="3" height="1" fill="#b4b4b4" shape-rendering="crispEdges"/>
<rect x="621" y="14" width="3" height="1" fill="#b4b4b4" shape-rendering="crispEdges"/>
<rect x="627" y="0" width="1" height="16" fill="#a0a0a0" shape-rendering="crispEdges"/>
<rect x="628" y="0" width="24" height="16" fill="#f8f8f8"/>
<path d="M635.5,-1 L635.5,9.2 L638,7 L640.2,12 L642,11.2 L639.8,6.4 L643,6.2 Z" fill="#444"/>
<path d="M660,6 H675 M667.5,-1 V13.5" stroke="#555" stroke-width="1" fill="none" shape-rendering="crispEdges"/><rect x="666.5" y="5" width="2" height="2" fill="#f0f0f0"/>
<rect x="684" y="0" width="1" height="16" fill="#a0a0a0" shape-rendering="crispEdges"/>
<rect x="701" y="0" width="1" height="13" fill="#555" shape-rendering="crispEdges"/>
<rect x="724" y="6" width="12" height="1" fill="#555" shape-rendering="crispEdges"/>
<line x1="752" y1="12.8" x2="764.2" y2="0.8" stroke="#555" stroke-width="1.1"/>
<path d="M778,9.5 L790,-1 M780,12.5 L792,2 M781.5,7 l2,4 M784.5,4.2 l2,4.2 M787.5,1.5 l2,4.2" stroke="#555" stroke-width="0.9" fill="none"/>
<path d="M789,10.5 h4.5 v1.1 h-3.1 v0.9 h2.7 v1 h-2.7 v1 h3.1 v1.1 h-4.5z" fill="#333"/>
<line x1="807" y1="2.5" x2="820.5" y2="2.5" stroke="#666" stroke-width="1" stroke-dasharray="1 1" shape-rendering="crispEdges"/>
<line x1="807" y1="6.5" x2="820.5" y2="6.5" stroke="#666" stroke-width="1" stroke-dasharray="1 1" shape-rendering="crispEdges"/>
<line x1="807" y1="10.5" x2="820.5" y2="10.5" stroke="#666" stroke-width="1" stroke-dasharray="1 1" shape-rendering="crispEdges"/>
<path d="M817,10 h4.3 v1.1 h-2.9 v1 h2.5 v1 h-2.5 v2 h-1.4z" fill="#333"/>
<text x="837.6" y="11" font-size="11" fill="#555">A</text>
<rect x="864.5" y="-0.5" width="11" height="13" fill="none" stroke="#666" stroke-width="1" stroke-dasharray="1 1" shape-rendering="crispEdges"/>
<text x="866.3" y="10.8" font-size="11" font-weight="bold" fill="#555">T</text>
<path d="M893.5,-0.5 l2.6,2.6 l-2.6,2.6 l-2.6,-2.6z M902,7.5 l3,3 l-3,3 l-3,-3z" fill="#444"/>
<path d="M892,6.5 l2.2,2.2 l4,-4.5" stroke="#444" stroke-width="1.4" fill="none"/>
<polygon points="912,5 918,5 915,8.2" fill="#000"/>
<rect x="923" y="0" width="1" height="17" fill="#a0a0a0" shape-rendering="crispEdges"/>
<rect x="927" y="0" width="3" height="1" fill="#b4b4b4" shape-rendering="crispEdges"/>
<rect x="927" y="2" width="3" height="1" fill="#b4b4b4" shape-rendering="crispEdges"/>
<rect x="927" y="4" width="3" height="1" fill="#b4b4b4" shape-rendering="crispEdges"/>
<rect x="927" y="6" width="3" height="1" fill="#b4b4b4" shape-rendering="crispEdges"/>
<rect x="927" y="8" width="3" height="1" fill="#b4b4b4" shape-rendering="crispEdges"/>
<rect x="927" y="10" width="3" height="1" fill="#b4b4b4" shape-rendering="crispEdges"/>
<rect x="927" y="12" width="3" height="1" fill="#b4b4b4" shape-rendering="crispEdges"/>
<rect x="927" y="14" width="3" height="1" fill="#b4b4b4" shape-rendering="crispEdges"/>
<rect x="1073" y="0" width="1" height="15" fill="#a0a0a0" shape-rendering="crispEdges"/>
<rect x="1074" y="0" width="24" height="16" fill="#f8f8f8"/>
<text x="938.6" y="9.9" font-size="9.4" fill="#444" textLength="12.4" lengthAdjust="spacingAndGlyphs">M1</text>
<text x="966.7" y="9.9" font-size="9.4" fill="#444" textLength="12.3" lengthAdjust="spacingAndGlyphs">M5</text>
<text x="992.4" y="9.9" font-size="9.4" fill="#444" textLength="17.9" lengthAdjust="spacingAndGlyphs">M15</text>
<text x="1020.8" y="9.9" font-size="9.4" fill="#444" textLength="17.6" lengthAdjust="spacingAndGlyphs">M30</text>
<text x="1051.7" y="9.9" font-size="9.4" fill="#444" textLength="11.7" lengthAdjust="spacingAndGlyphs">H1</text>
<text x="1078.7" y="9.9" font-size="9.4" fill="#444" textLength="12.0" lengthAdjust="spacingAndGlyphs">H4</text>
<text x="1107.8" y="9.9" font-size="9.4" fill="#444" textLength="11.7" lengthAdjust="spacingAndGlyphs">D1</text>
<text x="1135" y="9.9" font-size="9.4" fill="#444" textLength="14.0" lengthAdjust="spacingAndGlyphs">W1</text>
<text x="1162" y="9.9" font-size="9.4" fill="#444" textLength="14.5" lengthAdjust="spacingAndGlyphs">MN</text>
<rect x="1184" y="0" width="1" height="17" fill="#a0a0a0" shape-rendering="crispEdges"/>
<line x1="1646" y1="11.2" x2="1650.5" y2="6.2" stroke="#2a55c8" stroke-width="2.4" stroke-linecap="round"/>
<circle cx="1654.5" cy="2.8" r="4" fill="#f4f8ff" stroke="#3a66d8" stroke-width="1.5"/>
<path d="M1671.5,8.5 a4.5,4 0 0 1 4.5,-4.5 h6 v8 q-3,2 -6,0.8 l-2.8,1.8 l0.6,-2.4 q-2.3,-1.2 -2.3,-3.7z" fill="#e4e6ec" stroke="#b8bcc6" stroke-width="0.8"/>
<circle cx="1685.4" cy="2.6" r="8" fill="#e03a1e"/>
<text x="1685.4" y="7.6" font-size="12" font-weight="bold" fill="#fff" text-anchor="middle" font-family='"Liberation Serif", serif'>1</text>
</g></svg></body></html>
